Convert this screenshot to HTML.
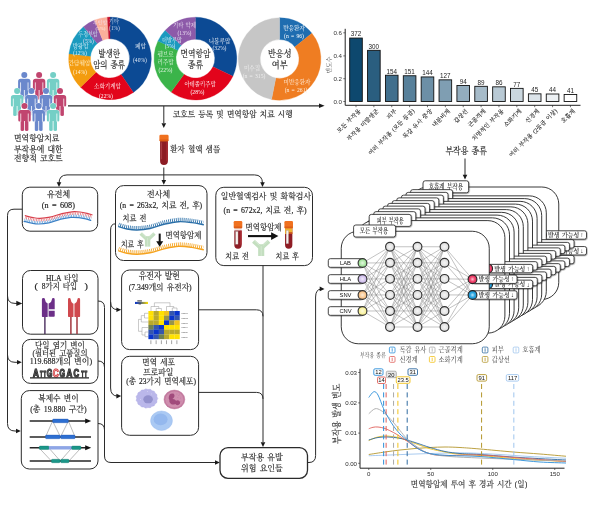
<!DOCTYPE html><html lang="ko"><head><meta charset="utf-8"><title>면역항암치료 부작용 코호트</title><style>
html,body{margin:0;padding:0;background:#fff}body{width:600px;height:509px;overflow:hidden}svg{display:block;will-change:transform;opacity:0.9999}
.s{font-family:"Liberation Serif","Noto Serif CJK SC","Noto Serif CJK KR",serif;word-spacing:0.16em}.a{font-family:"Liberation Sans","Noto Sans CJK KR",sans-serif}
</style></head><body><svg width="600" height="509" viewBox="0 0 600 509">
<rect width="600" height="509" fill="#fff"/>
<path d="M68,105.8 H320" stroke="#2b2b2b" stroke-width="1.2" fill="none" />
<polygon points="324.60,105.80 319.00,103.50 319.00,108.10" fill="#1a1a1a"/>
<path d="M110.00,17.10 A41.3,41.3 0 0 1 133.42,92.42 L121.11,74.54 A19.6,19.6 0 0 0 110.00,38.80 Z" fill="#0c4a94" stroke="#0c4a94" stroke-width="0.3"/>
<path d="M133.42,92.42 A41.3,41.3 0 0 1 80.57,87.37 L96.03,72.15 A19.6,19.6 0 0 0 121.11,74.54 Z" fill="#e2041b" stroke="#e2041b" stroke-width="0.3"/>
<path d="M80.57,87.37 A41.3,41.3 0 0 1 68.95,53.82 L90.52,56.23 A19.6,19.6 0 0 0 96.03,72.15 Z" fill="#f39c0f" stroke="#f39c0f" stroke-width="0.3"/>
<path d="M68.95,53.82 A41.3,41.3 0 0 1 83.45,26.76 L97.40,43.39 A19.6,19.6 0 0 0 90.52,56.23 Z" fill="#1b9abf" stroke="#1b9abf" stroke-width="0.3"/>
<path d="M83.45,26.76 A41.3,41.3 0 0 1 94.65,20.06 L102.72,40.20 A19.6,19.6 0 0 0 97.40,43.39 Z" fill="#8d5aa9" stroke="#8d5aa9" stroke-width="0.3"/>
<path d="M94.65,20.06 A41.3,41.3 0 0 1 107.38,17.18 L108.76,38.84 A19.6,19.6 0 0 0 102.72,40.20 Z" fill="#fbb09b" stroke="#fbb09b" stroke-width="0.3"/>
<path d="M107.38,17.18 A41.3,41.3 0 0 1 110.00,17.10 L110.00,38.80 A19.6,19.6 0 0 0 108.76,38.84 Z" fill="#c3122f" stroke="#c3122f" stroke-width="0.3"/>
<text class="s" x="98.20" y="57.16" font-size="9.6" fill="#222" textLength="22.00" lengthAdjust="spacingAndGlyphs"  stroke="#222" stroke-width="0.16">발생한</text>
<text class="s" x="93.20" y="67.82" font-size="9.2" fill="#222" textLength="31.80" lengthAdjust="spacingAndGlyphs"  stroke="#222" stroke-width="0.16">암의 종류</text>
<text class="s" x="140.50" y="47.50" font-size="5.6" fill="#ffffff" text-anchor="middle" >폐암</text>
<text class="s" x="140.00" y="61.50" font-size="5.6" fill="#dfe8f5" text-anchor="middle" >(40%)</text>
<text class="s" x="107.50" y="88.00" font-size="5.6" fill="#ffffff" text-anchor="middle" >소화기계암</text>
<text class="s" x="106.00" y="97.50" font-size="5.6" fill="#ffffff" text-anchor="middle" >(22%)</text>
<text class="s" x="79.50" y="64.50" font-size="5.6" fill="#fff4d8" text-anchor="middle" >간담췌암</text>
<text class="s" x="80.00" y="73.50" font-size="5.6" fill="#fff4d8" text-anchor="middle" >(14%)</text>
<text class="s" x="80.50" y="47.50" font-size="5.6" fill="#d8f0f8" text-anchor="middle" >방광암</text>
<text class="s" x="80.00" y="55.00" font-size="5.6" fill="#d8f0f8" text-anchor="middle" >(12%)</text>
<text class="s" x="78.30" y="36.49" font-size="5.4" fill="#d4ecf4" textLength="19.40" lengthAdjust="spacingAndGlyphs" >두경부암</text>
<text class="s" x="88.50" y="43.00" font-size="5.4" fill="#e6dcf0" text-anchor="middle" >(5%)</text>
<text class="s" x="100.00" y="24.00" font-size="5" fill="#f6dcea" text-anchor="middle" >부인암</text>
<text class="s" x="100.50" y="30.30" font-size="5" fill="#fde8e0" text-anchor="middle" >(5%)</text>
<text class="s" x="114.00" y="22.50" font-size="5.4" fill="#cdd7ee" text-anchor="middle" >기타</text>
<text class="s" x="114.50" y="29.50" font-size="5.4" fill="#cdd7ee" text-anchor="middle" >(1%)</text>
<path d="M195.40,17.20 A41.4,41.4 0 0 1 232.86,76.23 L212.95,66.86 A19.4,19.4 0 0 0 195.40,39.20 Z" fill="#0c4a94" stroke="#0c4a94" stroke-width="0.3"/>
<path d="M232.86,76.23 A41.4,41.4 0 0 1 171.07,92.09 L184.00,74.29 A19.4,19.4 0 0 0 212.95,66.86 Z" fill="#e2041b" stroke="#e2041b" stroke-width="0.3"/>
<path d="M171.07,92.09 A41.4,41.4 0 0 1 157.94,40.97 L177.85,50.34 A19.4,19.4 0 0 0 184.00,74.29 Z" fill="#3bb44a" stroke="#3bb44a" stroke-width="0.3"/>
<path d="M157.94,40.97 A41.4,41.4 0 0 1 165.22,30.26 L181.26,45.32 A19.4,19.4 0 0 0 177.85,50.34 Z" fill="#1b9abf" stroke="#1b9abf" stroke-width="0.3"/>
<path d="M165.22,30.26 A41.4,41.4 0 0 1 195.40,17.20 L195.40,39.20 A19.4,19.4 0 0 0 181.26,45.32 Z" fill="#8d5aa9" stroke="#8d5aa9" stroke-width="0.3"/>
<text class="s" x="180.40" y="57.09" font-size="9.4" fill="#222" textLength="30.00" lengthAdjust="spacingAndGlyphs"  stroke="#222" stroke-width="0.16">면역항암</text>
<text class="s" x="187.80" y="67.82" font-size="9.2" fill="#222" textLength="15.20" lengthAdjust="spacingAndGlyphs"  stroke="#222" stroke-width="0.16">종류</text>
<text class="s" x="219.50" y="42.50" font-size="5.6" fill="#ffffff" text-anchor="middle" >니볼루맙</text>
<text class="s" x="219.50" y="50.00" font-size="5.6" fill="#dfe8f5" text-anchor="middle" >(32%)</text>
<text class="s" x="200.00" y="86.00" font-size="5.4" fill="#ffffff" text-anchor="middle" >아테졸리주맙</text>
<text class="s" x="197.50" y="93.50" font-size="5.6" fill="#ffffff" text-anchor="middle" >(28%)</text>
<text class="s" x="165.50" y="56.00" font-size="5.6" fill="#e6f7e6" text-anchor="middle" >펨브로</text>
<text class="s" x="165.50" y="63.50" font-size="5.6" fill="#e6f7e6" text-anchor="middle" >리주맙</text>
<text class="s" x="165.50" y="71.50" font-size="5.6" fill="#e6f7e6" text-anchor="middle" >(22%)</text>
<text class="s" x="172.00" y="41.50" font-size="5.2" fill="#dff2f8" text-anchor="middle" >더발루맙</text>
<text class="s" x="170.00" y="47.50" font-size="5.2" fill="#dff2f8" text-anchor="middle" >(5%)</text>
<text class="s" x="184.50" y="27.00" font-size="5.4" fill="#eadff2" text-anchor="middle" >기타 약제</text>
<text class="s" x="184.50" y="34.50" font-size="5.6" fill="#eadff2" text-anchor="middle" >(13%)</text>
<path d="M279.60,17.70 A41.3,41.3 0 0 1 311.89,33.25 L294.77,46.90 A19.4,19.4 0 0 0 279.60,39.60 Z" fill="#1f6db0" stroke="#1f6db0" stroke-width="0.3"/>
<path d="M311.89,33.25 A41.3,41.3 0 0 1 271.54,99.51 L275.82,78.03 A19.4,19.4 0 0 0 294.77,46.90 Z" fill="#ef7d22" stroke="#ef7d22" stroke-width="0.3"/>
<path d="M271.54,99.51 A41.3,41.3 0 0 1 279.60,17.70 L279.60,39.60 A19.4,19.4 0 0 0 275.82,78.03 Z" fill="#c6c6c6" stroke="#c6c6c6" stroke-width="0.3"/>
<text class="s" x="268.00" y="57.29" font-size="9.4" fill="#222" textLength="23.60" lengthAdjust="spacingAndGlyphs"  stroke="#222" stroke-width="0.16">반응성</text>
<text class="s" x="271.80" y="68.02" font-size="9.2" fill="#222" textLength="15.80" lengthAdjust="spacingAndGlyphs"  stroke="#222" stroke-width="0.16">여부</text>
<text class="s" x="294.00" y="30.00" font-size="5.6" fill="#ffffff" text-anchor="middle" >반응환자</text>
<text class="s" x="294.00" y="37.50" font-size="5.6" fill="#ffffff" text-anchor="middle" >(n = 96)</text>
<text class="s" x="297.00" y="84.00" font-size="5.6" fill="#fff0e0" text-anchor="middle" >미반응환자</text>
<text class="s" x="296.00" y="92.00" font-size="5.6" fill="#fff0e0" text-anchor="middle" >(n = 261)</text>
<text class="s" x="252.00" y="69.50" font-size="5.6" fill="#eeeeee" text-anchor="middle" >미수집</text>
<text class="s" x="254.00" y="77.50" font-size="5.6" fill="#eeeeee" text-anchor="middle" >(n = 315)</text>
<g transform="translate(24.30,74.90)" fill="#6a88cc" stroke="#fff" stroke-width="0.9" paint-order="stroke"><path d="M-6.2,6.6 Q-6.2,3.9 -3.6,3.9 H3.6 Q6.2,3.9 6.2,6.6 V14.2 Q6.2,15.4 5,15.4 Q3.9,15.4 3.9,14.2 V24 Q3.9,25 2.2,25 Q0.5,25 0.4,24 V15 H-0.4 V24 Q-0.5,25 -2.2,25 Q-3.9,25 -3.9,24 V14.2 Q-3.9,15.4 -5,15.4 Q-6.2,15.4 -6.2,14.2 Z"/><circle cx="0" cy="0" r="3"/></g><path d="M20.55,82.40 V90.50 M28.05,82.40 V90.50" stroke="#fff" stroke-width="0.75"/>
<g transform="translate(39.10,74.90)" fill="#c1456f" stroke="#fff" stroke-width="0.9" paint-order="stroke"><path d="M-6.2,6.6 Q-6.2,3.9 -3.6,3.9 H3.6 Q6.2,3.9 6.2,6.6 V14.2 Q6.2,15.4 5,15.4 Q3.9,15.4 3.9,14.2 V24 Q3.9,25 2.2,25 Q0.5,25 0.4,24 V15 H-0.4 V24 Q-0.5,25 -2.2,25 Q-3.9,25 -3.9,24 V14.2 Q-3.9,15.4 -5,15.4 Q-6.2,15.4 -6.2,14.2 Z"/><circle cx="0" cy="0" r="3"/></g><path d="M35.35,82.40 V90.50 M42.85,82.40 V90.50" stroke="#fff" stroke-width="0.75"/>
<g transform="translate(53.10,74.90)" fill="#74cfc6" stroke="#fff" stroke-width="0.9" paint-order="stroke"><path d="M-6.2,6.6 Q-6.2,3.9 -3.6,3.9 H3.6 Q6.2,3.9 6.2,6.6 V14.2 Q6.2,15.4 5,15.4 Q3.9,15.4 3.9,14.2 V24 Q3.9,25 2.2,25 Q0.5,25 0.4,24 V15 H-0.4 V24 Q-0.5,25 -2.2,25 Q-3.9,25 -3.9,24 V14.2 Q-3.9,15.4 -5,15.4 Q-6.2,15.4 -6.2,14.2 Z"/><circle cx="0" cy="0" r="3"/></g><path d="M49.35,82.40 V90.50 M56.85,82.40 V90.50" stroke="#fff" stroke-width="0.75"/>
<g transform="translate(17.10,91.10)" fill="#74cfc6" stroke="#fff" stroke-width="0.9" paint-order="stroke"><path d="M-6.2,6.6 Q-6.2,3.9 -3.6,3.9 H3.6 Q6.2,3.9 6.2,6.6 V14.2 Q6.2,15.4 5,15.4 Q3.9,15.4 3.9,14.2 V24 Q3.9,25 2.2,25 Q0.5,25 0.4,24 V15 H-0.4 V24 Q-0.5,25 -2.2,25 Q-3.9,25 -3.9,24 V14.2 Q-3.9,15.4 -5,15.4 Q-6.2,15.4 -6.2,14.2 Z"/><circle cx="0" cy="0" r="3"/></g><path d="M13.35,98.60 V106.70 M20.85,98.60 V106.70" stroke="#fff" stroke-width="0.75"/>
<g transform="translate(31.40,91.10)" fill="#6a88cc" stroke="#fff" stroke-width="0.9" paint-order="stroke"><path d="M-6.2,6.6 Q-6.2,3.9 -3.6,3.9 H3.6 Q6.2,3.9 6.2,6.6 V14.2 Q6.2,15.4 5,15.4 Q3.9,15.4 3.9,14.2 V24 Q3.9,25 2.2,25 Q0.5,25 0.4,24 V15 H-0.4 V24 Q-0.5,25 -2.2,25 Q-3.9,25 -3.9,24 V14.2 Q-3.9,15.4 -5,15.4 Q-6.2,15.4 -6.2,14.2 Z"/><circle cx="0" cy="0" r="3"/></g><path d="M27.65,98.60 V106.70 M35.15,98.60 V106.70" stroke="#fff" stroke-width="0.75"/>
<g transform="translate(46.00,91.10)" fill="#6a88cc" stroke="#fff" stroke-width="0.9" paint-order="stroke"><path d="M-6.2,6.6 Q-6.2,3.9 -3.6,3.9 H3.6 Q6.2,3.9 6.2,6.6 V14.2 Q6.2,15.4 5,15.4 Q3.9,15.4 3.9,14.2 V24 Q3.9,25 2.2,25 Q0.5,25 0.4,24 V15 H-0.4 V24 Q-0.5,25 -2.2,25 Q-3.9,25 -3.9,24 V14.2 Q-3.9,15.4 -5,15.4 Q-6.2,15.4 -6.2,14.2 Z"/><circle cx="0" cy="0" r="3"/></g><path d="M42.25,98.60 V106.70 M49.75,98.60 V106.70" stroke="#fff" stroke-width="0.75"/>
<g transform="translate(60.00,91.10)" fill="#c1456f" stroke="#fff" stroke-width="0.9" paint-order="stroke"><path d="M-6.2,6.6 Q-6.2,3.9 -3.6,3.9 H3.6 Q6.2,3.9 6.2,6.6 V14.2 Q6.2,15.4 5,15.4 Q3.9,15.4 3.9,14.2 V24 Q3.9,25 2.2,25 Q0.5,25 0.4,24 V15 H-0.4 V24 Q-0.5,25 -2.2,25 Q-3.9,25 -3.9,24 V14.2 Q-3.9,15.4 -5,15.4 Q-6.2,15.4 -6.2,14.2 Z"/><circle cx="0" cy="0" r="3"/></g><path d="M56.25,98.60 V106.70 M63.75,98.60 V106.70" stroke="#fff" stroke-width="0.75"/>
<g transform="translate(24.50,106.00)" fill="#c1456f" stroke="#fff" stroke-width="0.9" paint-order="stroke"><path d="M-6.2,6.6 Q-6.2,3.9 -3.6,3.9 H3.6 Q6.2,3.9 6.2,6.6 V14.2 Q6.2,15.4 5,15.4 Q3.9,15.4 3.9,14.2 V24 Q3.9,25 2.2,25 Q0.5,25 0.4,24 V15 H-0.4 V24 Q-0.5,25 -2.2,25 Q-3.9,25 -3.9,24 V14.2 Q-3.9,15.4 -5,15.4 Q-6.2,15.4 -6.2,14.2 Z"/><circle cx="0" cy="0" r="3"/></g><path d="M20.75,113.50 V121.60 M28.25,113.50 V121.60" stroke="#fff" stroke-width="0.75"/>
<g transform="translate(38.70,106.00)" fill="#6a88cc" stroke="#fff" stroke-width="0.9" paint-order="stroke"><path d="M-6.2,6.6 Q-6.2,3.9 -3.6,3.9 H3.6 Q6.2,3.9 6.2,6.6 V14.2 Q6.2,15.4 5,15.4 Q3.9,15.4 3.9,14.2 V24 Q3.9,25 2.2,25 Q0.5,25 0.4,24 V15 H-0.4 V24 Q-0.5,25 -2.2,25 Q-3.9,25 -3.9,24 V14.2 Q-3.9,15.4 -5,15.4 Q-6.2,15.4 -6.2,14.2 Z"/><circle cx="0" cy="0" r="3"/></g><path d="M34.95,113.50 V121.60 M42.45,113.50 V121.60" stroke="#fff" stroke-width="0.75"/>
<g transform="translate(53.10,106.00)" fill="#74cfc6" stroke="#fff" stroke-width="0.9" paint-order="stroke"><path d="M-6.2,6.6 Q-6.2,3.9 -3.6,3.9 H3.6 Q6.2,3.9 6.2,6.6 V14.2 Q6.2,15.4 5,15.4 Q3.9,15.4 3.9,14.2 V24 Q3.9,25 2.2,25 Q0.5,25 0.4,24 V15 H-0.4 V24 Q-0.5,25 -2.2,25 Q-3.9,25 -3.9,24 V14.2 Q-3.9,15.4 -5,15.4 Q-6.2,15.4 -6.2,14.2 Z"/><circle cx="0" cy="0" r="3"/></g><path d="M49.35,113.50 V121.60 M56.85,113.50 V121.60" stroke="#fff" stroke-width="0.75"/>
<text class="s" x="14.00" y="141.34" font-size="8.4" fill="#222" textLength="45.40" lengthAdjust="spacingAndGlyphs"  stroke="#222" stroke-width="0.16">면역항암치료</text>
<text class="s" x="14.00" y="151.74" font-size="8.4" fill="#222" textLength="48.70" lengthAdjust="spacingAndGlyphs"  stroke="#222" stroke-width="0.16">부작용에 대한</text>
<text class="s" x="14.00" y="161.34" font-size="8.4" fill="#222" textLength="48.70" lengthAdjust="spacingAndGlyphs"  stroke="#222" stroke-width="0.16">전향적 코호트</text>
<rect x="349.70" y="38.06" width="12.6" height="63.44" fill="rgb(13, 72, 110)" stroke="#111" stroke-width="0.9"/>
<text class="a" x="356.00" y="36.46" font-size="6.3" fill="#222" text-anchor="middle" >372</text>
<path d="M356.00,105.3 V107.2" stroke="#333" stroke-width="0.7" fill="none" />
<text class="s" x="361.20" y="111.40" font-size="5.9" fill="#1e1e1e" text-anchor="end" stroke="#1e1e1e" stroke-width="0.1" transform="rotate(-45 361.20 111.4)">모든 부작용</text>
<rect x="367.57" y="50.34" width="12.6" height="51.16" fill="rgb(42, 94, 127)" stroke="#111" stroke-width="0.9"/>
<text class="a" x="373.87" y="48.74" font-size="6.3" fill="#222" text-anchor="middle" >300</text>
<path d="M373.87,105.3 V107.2" stroke="#333" stroke-width="0.7" fill="none" />
<text class="s" x="379.07" y="111.40" font-size="5.9" fill="#1e1e1e" text-anchor="end" stroke="#1e1e1e" stroke-width="0.1" transform="rotate(-45 379.07 111.4)">부작용 미발생군</text>
<rect x="385.44" y="75.24" width="12.6" height="26.26" fill="rgb(65, 111, 141)" stroke="#111" stroke-width="0.9"/>
<text class="a" x="391.74" y="73.64" font-size="6.3" fill="#222" text-anchor="middle" >154</text>
<path d="M391.74,105.3 V107.2" stroke="#333" stroke-width="0.7" fill="none" />
<text class="s" x="396.94" y="111.40" font-size="5.9" fill="#1e1e1e" text-anchor="end" stroke="#1e1e1e" stroke-width="0.1" transform="rotate(-45 396.94 111.4)">피부</text>
<rect x="403.31" y="75.75" width="12.6" height="25.75" fill="rgb(87, 128, 154)" stroke="#111" stroke-width="0.9"/>
<text class="a" x="409.61" y="74.15" font-size="6.3" fill="#222" text-anchor="middle" >151</text>
<path d="M409.61,105.3 V107.2" stroke="#333" stroke-width="0.7" fill="none" />
<text class="s" x="414.81" y="111.40" font-size="5.9" fill="#1e1e1e" text-anchor="end" stroke="#1e1e1e" stroke-width="0.1" transform="rotate(-45 414.81 111.4)">여러 부작용 (모든 등급)</text>
<rect x="421.18" y="76.94" width="12.6" height="24.56" fill="rgb(108, 143, 166)" stroke="#111" stroke-width="0.9"/>
<text class="a" x="427.48" y="75.34" font-size="6.3" fill="#222" text-anchor="middle" >144</text>
<path d="M427.48,105.3 V107.2" stroke="#333" stroke-width="0.7" fill="none" />
<text class="s" x="432.68" y="111.40" font-size="5.9" fill="#1e1e1e" text-anchor="end" stroke="#1e1e1e" stroke-width="0.1" transform="rotate(-45 432.68 111.4)">독감 유사 증상</text>
<rect x="439.05" y="79.84" width="12.6" height="21.66" fill="rgb(127, 158, 178)" stroke="#111" stroke-width="0.9"/>
<text class="a" x="445.35" y="78.24" font-size="6.3" fill="#222" text-anchor="middle" >127</text>
<path d="M445.35,105.3 V107.2" stroke="#333" stroke-width="0.7" fill="none" />
<text class="s" x="450.55" y="111.40" font-size="5.9" fill="#1e1e1e" text-anchor="end" stroke="#1e1e1e" stroke-width="0.1" transform="rotate(-45 450.55 111.4)">내분비계</text>
<rect x="456.92" y="85.47" width="12.6" height="16.03" fill="rgb(147, 173, 190)" stroke="#111" stroke-width="0.9"/>
<text class="a" x="463.22" y="83.87" font-size="6.3" fill="#222" text-anchor="middle" >94</text>
<path d="M463.22,105.3 V107.2" stroke="#333" stroke-width="0.7" fill="none" />
<text class="s" x="468.42" y="111.40" font-size="5.9" fill="#1e1e1e" text-anchor="end" stroke="#1e1e1e" stroke-width="0.1" transform="rotate(-45 468.42 111.4)">갑상선</text>
<rect x="474.79" y="86.32" width="12.6" height="15.18" fill="rgb(166, 187, 201)" stroke="#111" stroke-width="0.9"/>
<text class="a" x="481.09" y="84.72" font-size="6.3" fill="#222" text-anchor="middle" >89</text>
<path d="M481.09,105.3 V107.2" stroke="#333" stroke-width="0.7" fill="none" />
<text class="s" x="486.29" y="111.40" font-size="5.9" fill="#1e1e1e" text-anchor="end" stroke="#1e1e1e" stroke-width="0.1" transform="rotate(-45 486.29 111.4)">근골격계</text>
<rect x="492.66" y="86.83" width="12.6" height="14.67" fill="rgb(184, 201, 212)" stroke="#111" stroke-width="0.9"/>
<text class="a" x="498.96" y="85.23" font-size="6.3" fill="#222" text-anchor="middle" >86</text>
<path d="M498.96,105.3 V107.2" stroke="#333" stroke-width="0.7" fill="none" />
<text class="s" x="504.16" y="111.40" font-size="5.9" fill="#1e1e1e" text-anchor="end" stroke="#1e1e1e" stroke-width="0.1" transform="rotate(-45 504.16 111.4)">치명적인 부작용</text>
<rect x="510.53" y="88.37" width="12.6" height="13.13" fill="rgb(202, 215, 223)" stroke="#111" stroke-width="0.9"/>
<text class="a" x="516.83" y="86.77" font-size="6.3" fill="#222" text-anchor="middle" >77</text>
<path d="M516.83,105.3 V107.2" stroke="#333" stroke-width="0.7" fill="none" />
<text class="s" x="522.03" y="111.40" font-size="5.9" fill="#1e1e1e" text-anchor="end" stroke="#1e1e1e" stroke-width="0.1" transform="rotate(-45 522.03 111.4)">소화기계</text>
<rect x="528.40" y="93.83" width="12.6" height="7.67" fill="rgb(220, 228, 234)" stroke="#111" stroke-width="0.9"/>
<text class="a" x="534.70" y="92.23" font-size="6.3" fill="#222" text-anchor="middle" >45</text>
<path d="M534.70,105.3 V107.2" stroke="#333" stroke-width="0.7" fill="none" />
<text class="s" x="539.90" y="111.40" font-size="5.9" fill="#1e1e1e" text-anchor="end" stroke="#1e1e1e" stroke-width="0.1" transform="rotate(-45 539.90 111.4)">신경계</text>
<rect x="546.27" y="94.00" width="12.6" height="7.50" fill="rgb(237, 241, 244)" stroke="#111" stroke-width="0.9"/>
<text class="a" x="552.57" y="92.40" font-size="6.3" fill="#222" text-anchor="middle" >44</text>
<path d="M552.57,105.3 V107.2" stroke="#333" stroke-width="0.7" fill="none" />
<text class="s" x="557.77" y="111.40" font-size="5.9" fill="#1e1e1e" text-anchor="end" stroke="#1e1e1e" stroke-width="0.1" transform="rotate(-45 557.77 111.4)">여러 부작용 (2등급 이상)</text>
<rect x="564.14" y="94.51" width="12.6" height="6.99" fill="rgb(255, 255, 255)" stroke="#111" stroke-width="0.9"/>
<text class="a" x="570.44" y="92.91" font-size="6.3" fill="#222" text-anchor="middle" >41</text>
<path d="M570.44,105.3 V107.2" stroke="#333" stroke-width="0.7" fill="none" />
<text class="s" x="575.64" y="111.40" font-size="5.9" fill="#1e1e1e" text-anchor="end" stroke="#1e1e1e" stroke-width="0.1" transform="rotate(-45 575.64 111.4)">호흡계</text>
<path d="M345.2,28.8 V105.3 H580.5" stroke="#222" stroke-width="1" fill="none" />
<path d="M343.3,32.8 H345.2" stroke="#333" stroke-width="0.7" fill="none" />
<text class="a" x="342.00" y="35.00" font-size="6.2" fill="#333" text-anchor="end" >0.6</text>
<path d="M343.3,55.9 H345.2" stroke="#333" stroke-width="0.7" fill="none" />
<text class="a" x="342.00" y="58.10" font-size="6.2" fill="#333" text-anchor="end" >0.4</text>
<path d="M343.3,78.7 H345.2" stroke="#333" stroke-width="0.7" fill="none" />
<text class="a" x="342.00" y="80.90" font-size="6.2" fill="#333" text-anchor="end" >0.2</text>
<path d="M343.3,101.5 H345.2" stroke="#333" stroke-width="0.7" fill="none" />
<text class="a" x="342.00" y="103.70" font-size="6.2" fill="#333" text-anchor="end" >0.0</text>
<text class="s" x="330.60" y="65.00" font-size="5.8" fill="#444" text-anchor="middle" transform="rotate(-90 330.6 65)">빈도수</text>
<text class="s" x="445.40" y="154.29" font-size="9.4" fill="#222" textLength="41.50" lengthAdjust="spacingAndGlyphs"  stroke="#222" stroke-width="0.16">부작용 종류</text>
<path d="M465,158.5 V175" stroke="#2b2b2b" stroke-width="1" fill="none" />
<polygon points="465.00,179.50 462.70,174.70 467.30,174.70" fill="#1a1a1a"/>
<path d="M163.8,106 V123" stroke="#2b2b2b" stroke-width="1" fill="none" />
<polygon points="163.80,128.00 161.50,123.20 166.10,123.20" fill="#1a1a1a"/>
<path d="M160.09,140.90 H167.91 V161.09 A3.91,3.91 0 0 1 160.09,161.09 Z" fill="#8c1c24"/>
<rect x="166.31" y="141.90" width="1.6" height="19.19" fill="#a52a32"/>
<rect x="160.99" y="142.40" width="1.1" height="16.87" fill="#a83a40"/>
<rect x="159.40" y="134.80" width="9.20" height="6.40" rx="1.3" fill="#f0711f"/>
<rect x="159.60" y="139.40" width="8.80" height="1.8" rx="0.6" fill="#dc5c16"/>
<text class="s" x="170.30" y="152.26" font-size="7.9" fill="#222" textLength="49.90" lengthAdjust="spacingAndGlyphs"  stroke="#222" stroke-width="0.16">환자 혈액 샘플</text>
<text class="s" x="172.80" y="117.36" font-size="7.9" fill="#222" textLength="119.90" lengthAdjust="spacingAndGlyphs"  stroke="#222" stroke-width="0.16">코호트 등록 및 면역항암 치료 시행</text>
<path d="M163.8,167.5 V180" stroke="#2b2b2b" stroke-width="1" fill="none" />
<polygon points="163.80,184.80 161.50,180.00 166.10,180.00" fill="#1a1a1a"/>
<path d="M59,183.5 Q59,174.9 67,174.9 H254.5 Q262.5,174.9 262.5,183.5" stroke="#2b2b2b" stroke-width="1" fill="none" />
<polygon points="59.00,187.00 56.70,182.20 61.30,182.20" fill="#1a1a1a"/>
<polygon points="262.50,187.00 260.20,182.20 264.80,182.20" fill="#1a1a1a"/>
<rect x="22.30" y="187.20" width="75.40" height="44.00" rx="7.5" ry="7.5" stroke="#2b2b2b" stroke-width="1" fill="#fff" />
<text class="s" x="47.10" y="197.24" font-size="8.4" fill="#222" textLength="23.10" lengthAdjust="spacingAndGlyphs"  stroke="#222" stroke-width="0.16">유전체</text>
<text class="s" x="41.80" y="207.80" font-size="8" fill="#222" textLength="33.10" lengthAdjust="spacingAndGlyphs"  stroke="#222" stroke-width="0.16">(n = 608)</text>
<path d="M25.30,215.70 C26.58,216.02 30.55,217.15 33.00,217.60 C35.45,218.05 37.17,218.47 40.00,218.40 C42.83,218.33 46.33,218.00 50.00,217.20 C53.67,216.40 58.33,214.50 62.00,213.60 C65.67,212.70 69.00,212.07 72.00,211.80 C75.00,211.53 77.50,211.75 80.00,212.00 C82.50,212.25 85.00,212.83 87.00,213.30 C89.00,213.77 91.17,214.55 92.00,214.80" stroke="#d8404c" stroke-width="1.2" fill="none" stroke-linecap="round"/>
<path d="M24.10,221.30 C25.38,221.62 29.35,222.75 31.80,223.20 C34.25,223.65 35.97,224.07 38.80,224.00 C41.63,223.93 45.13,223.60 48.80,222.80 C52.47,222.00 57.13,220.10 60.80,219.20 C64.47,218.30 67.80,217.67 70.80,217.40 C73.80,217.13 76.30,217.35 78.80,217.60 C81.30,217.85 83.80,218.43 85.80,218.90 C87.80,219.37 89.97,220.15 90.80,220.40" stroke="#3a7fc4" stroke-width="1.2" fill="none" stroke-linecap="round"/>
<path d="M25.00,217.60 C26.28,217.92 30.25,219.05 32.70,219.50 C35.15,219.95 36.87,220.37 39.70,220.30 C42.53,220.23 46.03,219.90 49.70,219.10 C53.37,218.30 58.03,216.40 61.70,215.50 C65.37,214.60 68.70,213.97 71.70,213.70 C74.70,213.43 77.20,213.65 79.70,213.90 C82.20,214.15 84.70,214.73 86.70,215.20 C88.70,215.67 90.87,216.45 91.70,216.70" stroke="#e26a72" stroke-width="2.5" fill="none" stroke-dasharray="0.7 0.95"/>
<path d="M24.40,219.80 C25.68,220.12 29.65,221.25 32.10,221.70 C34.55,222.15 36.27,222.57 39.10,222.50 C41.93,222.43 45.43,222.10 49.10,221.30 C52.77,220.50 57.43,218.60 61.10,217.70 C64.77,216.80 68.10,216.17 71.10,215.90 C74.10,215.63 76.60,215.85 79.10,216.10 C81.60,216.35 84.10,216.93 86.10,217.40 C88.10,217.87 90.27,218.65 91.10,218.90" stroke="#5c9ad6" stroke-width="2.4" fill="none" stroke-dasharray="0.7 0.95"/>
<path d="M22.3,209.2 H14 Q7.5,209.2 7.5,215.7 V423.5 Q7.5,431 15,431 H17" stroke="#2b2b2b" stroke-width="1" fill="none" />
<path d="M7.5,295.8 Q7.5,303.4 15,303.4 H17" stroke="#2b2b2b" stroke-width="1" fill="none" />
<polygon points="22.30,303.40 16.30,300.70 16.30,306.10" fill="#1a1a1a"/>
<path d="M7.5,354.8 Q7.5,362.3 15,362.3 H17.5" stroke="#2b2b2b" stroke-width="1" fill="none" />
<polygon points="21.80,362.30 17.00,360.00 17.00,364.60" fill="#1a1a1a"/>
<polygon points="20.80,431.00 16.00,428.70 16.00,433.30" fill="#1a1a1a"/>
<rect x="22.50" y="270.50" width="75.50" height="63.70" rx="8" ry="8" stroke="#2b2b2b" stroke-width="1" fill="#fff" />
<text class="s" x="45.90" y="280.87" font-size="8.2" fill="#222" textLength="32.70" lengthAdjust="spacingAndGlyphs"  stroke="#222" stroke-width="0.16">HLA 타입</text>
<text class="s" x="41.80" y="289.47" font-size="8.2" fill="#222" textLength="35.40" lengthAdjust="spacingAndGlyphs"  stroke="#222" stroke-width="0.16">8가지 타입</text>
<text class="s" x="34.40" y="289.47" font-size="8.2" fill="#222" textLength="3.40" lengthAdjust="spacingAndGlyphs"  stroke="#222" stroke-width="0.16">(</text>
<text class="s" x="84.60" y="289.47" font-size="8.2" fill="#222" textLength="3.40" lengthAdjust="spacingAndGlyphs"  stroke="#222" stroke-width="0.16">)</text>
<rect x="47.4" y="303.4" width="1.7" height="13.3" fill="#cdbfd8"/>
<path d="M41.9,316.2 V299.4 Q41.9,298 43.4,298 Q44.9,298 45,299.4 Q45.3,302.4 47.6,303.6 V316.9 H42.6 Q41.9,316.9 41.9,316.2 Z" fill="#6c2f88"/>
<path d="M54.7,309 V299.4 Q54.7,298 53.3,298 Q52,298 51.9,299.4 Q51.6,302.4 48.9,303.6 V309 Z" fill="#6c2f88"/>
<rect x="48.9" y="310.7" width="5.8" height="6" rx="0.8" fill="#6c2f88"/>
<rect x="48.9" y="309" width="5.8" height="1.7" fill="#d9cde2"/>
<path d="M44.9,316.9 V334" stroke="#3c1d52" stroke-width="1.3" fill="none" />
<rect x="73" y="303.6" width="1.8" height="13.3" fill="#eabfbf"/>
<path d="M68,316.2 V299.4 Q68,298 69.3,298 Q70.6,298 70.7,299.4 Q71,302.6 73.2,303.8 V316.9 H68.7 Q68,316.9 68,316.2 Z" fill="#d0484e"/>
<path d="M80.1,316.2 V299.4 Q80.1,298 78.8,298 Q77.5,298 77.4,299.4 Q77.1,302.6 74.6,303.8 V316.9 H79.4 Q80.1,316.9 80.1,316.2 Z" fill="#d0484e"/>
<path d="M70.9,316.9 V334 M77,316.9 V334" stroke="#a3383f" stroke-width="1.5" fill="none" />
<rect x="22.40" y="339.40" width="75.60" height="44.00" rx="8" ry="8" stroke="#2b2b2b" stroke-width="1" fill="#fff" />
<text class="s" x="35.10" y="347.57" font-size="8.2" fill="#222" textLength="49.80" lengthAdjust="spacingAndGlyphs"  stroke="#222" stroke-width="0.16">단일 염기 변이</text>
<text class="s" x="32.50" y="356.10" font-size="8" fill="#222" textLength="55.00" lengthAdjust="spacingAndGlyphs"  stroke="#222" stroke-width="0.16">(필터된 고품질의</text>
<text class="s" x="29.80" y="364.20" font-size="8" fill="#222" textLength="62.40" lengthAdjust="spacingAndGlyphs"  stroke="#222" stroke-width="0.16">119.688개의 변이)</text>
<text class="a" x="33.00" y="376.6" font-size="10.3" font-weight="bold" fill="#4a4a4a" stroke="#141414" stroke-width="1.1" paint-order="stroke" textLength="5.80" lengthAdjust="spacingAndGlyphs">A</text>
<text class="a" x="40.10" y="376.6" font-size="8.4" font-weight="bold" fill="#4a4a4a" stroke="#141414" stroke-width="1.1" paint-order="stroke" textLength="2.60" lengthAdjust="spacingAndGlyphs">T</text>
<text class="a" x="43.50" y="376.6" font-size="8.4" font-weight="bold" fill="#4a4a4a" stroke="#141414" stroke-width="1.1" paint-order="stroke" textLength="2.60" lengthAdjust="spacingAndGlyphs">T</text>
<text class="a" x="46.80" y="376.6" font-size="10.3" font-weight="bold" fill="#4a4a4a" stroke="#141414" stroke-width="1.1" paint-order="stroke" textLength="5.60" lengthAdjust="spacingAndGlyphs">G</text>
<text class="a" x="52.90" y="376.6" font-size="10.3" font-weight="bold" fill="#e88a8a" stroke="#c4151c" stroke-width="1.1" paint-order="stroke" textLength="5.60" lengthAdjust="spacingAndGlyphs">C</text>
<text class="a" x="59.60" y="376.6" font-size="10.3" font-weight="bold" fill="#4a4a4a" stroke="#141414" stroke-width="1.1" paint-order="stroke" textLength="5.60" lengthAdjust="spacingAndGlyphs">G</text>
<text class="a" x="66.50" y="376.6" font-size="10.3" font-weight="bold" fill="#4a4a4a" stroke="#141414" stroke-width="1.1" paint-order="stroke" textLength="5.80" lengthAdjust="spacingAndGlyphs">A</text>
<text class="a" x="73.50" y="376.6" font-size="10.3" font-weight="bold" fill="#4a4a4a" stroke="#141414" stroke-width="1.1" paint-order="stroke" textLength="5.60" lengthAdjust="spacingAndGlyphs">C</text>
<text class="a" x="81.20" y="376.6" font-size="8.4" font-weight="bold" fill="#4a4a4a" stroke="#141414" stroke-width="1.1" paint-order="stroke" textLength="2.60" lengthAdjust="spacingAndGlyphs">T</text>
<text class="a" x="84.60" y="376.6" font-size="8.4" font-weight="bold" fill="#4a4a4a" stroke="#141414" stroke-width="1.1" paint-order="stroke" textLength="2.60" lengthAdjust="spacingAndGlyphs">T</text>
<path d="M30,377.8 H89" stroke="#222" stroke-width="1.3" fill="none" />
<rect x="21.30" y="390.60" width="76.70" height="78.40" rx="8" ry="8" stroke="#2b2b2b" stroke-width="1" fill="#fff" />
<text class="s" x="38.20" y="401.27" font-size="8.2" fill="#222" textLength="40.40" lengthAdjust="spacingAndGlyphs"  stroke="#222" stroke-width="0.16">복제수 변이</text>
<text class="s" x="30.20" y="411.70" font-size="8" fill="#222" textLength="56.40" lengthAdjust="spacingAndGlyphs"  stroke="#222" stroke-width="0.16">(총 19.880 구간)</text>
<path d="M29.7,420.9 H86" stroke="#262626" stroke-width="1.5" fill="none" />
<polygon points="91.20,420.90 85.20,418.40 85.20,423.40" fill="#111"/>
<path d="M29.7,436.9 H91" stroke="#262626" stroke-width="1.5" fill="none" />
<path d="M29.7,447.8 H86" stroke="#262626" stroke-width="1.5" fill="none" />
<polygon points="91.20,447.80 85.20,445.30 85.20,450.30" fill="#111"/>
<path d="M29.7,461 H91" stroke="#262626" stroke-width="1.5" fill="none" />
<path d="M52.6,421 L45.5,437 M52.6,421 L60.5,437 M68.4,421 L60.5,437 M68.4,421 L75.1,437" stroke="#555" stroke-width="0.4" fill="none" />
<path d="M39.2,448 L51.4,461 M48.9,448 L60.3,461 M71.8,448 L60.3,461 M80.9,448 L68.9,461" stroke="#555" stroke-width="0.4" fill="none" />
<rect x="52.60" y="419.10" width="15.80" height="3.60" rx="0.9" ry="0.9" stroke="#2458b0" stroke-width="0.4" fill="#2d6fd2" />
<rect x="45.50" y="435.10" width="14.60" height="3.60" rx="0.9" ry="0.9" stroke="#2458b0" stroke-width="0.4" fill="#2d6fd2" />
<rect x="60.60" y="435.10" width="14.50" height="3.60" rx="0.9" ry="0.9" stroke="#2458b0" stroke-width="0.4" fill="#2d6fd2" />
<rect x="39.20" y="446.10" width="9.90" height="3.40" rx="0.9" ry="0.9" stroke="#147a6e" stroke-width="0.4" fill="#1a9688" />
<rect x="48.90" y="446.10" width="23.00" height="3.40" rx="0" ry="0" stroke="none" stroke-width="0" fill="#8ea6e6" />
<rect x="71.70" y="446.10" width="9.30" height="3.40" rx="0.9" ry="0.9" stroke="#147a6e" stroke-width="0.4" fill="#1a9688" />
<rect x="51.40" y="459.30" width="8.60" height="3.40" rx="0.9" ry="0.9" stroke="#147a6e" stroke-width="0.4" fill="#1a9688" />
<rect x="60.60" y="459.30" width="8.40" height="3.40" rx="0.9" ry="0.9" stroke="#147a6e" stroke-width="0.4" fill="#1a9688" />
<path d="M98,301 Q104.5,301 104.5,307.5 V456 Q104.5,462.5 111,462.5 H215" stroke="#2b2b2b" stroke-width="1" fill="none" />
<path d="M98,361 Q104.5,361 104.5,367.5" stroke="#2b2b2b" stroke-width="1" fill="none" />
<path d="M98,423.5 Q104.5,423.5 104.5,430" stroke="#2b2b2b" stroke-width="1" fill="none" />
<polygon points="219.80,462.50 215.00,460.20 215.00,464.80" fill="#1a1a1a"/>
<rect x="115.50" y="185.60" width="91.50" height="74.90" rx="8" ry="8" stroke="#2b2b2b" stroke-width="1" fill="#fff" />
<text class="s" x="147.10" y="197.04" font-size="8.4" fill="#222" textLength="23.10" lengthAdjust="spacingAndGlyphs"  stroke="#222" stroke-width="0.16">전사체</text>
<text class="s" x="119.80" y="207.80" font-size="8" fill="#222" textLength="82.40" lengthAdjust="spacingAndGlyphs"  stroke="#222" stroke-width="0.16">(n = 263x2, 치료 전, 후)</text>
<text class="s" x="122.60" y="221.10" font-size="8" fill="#222" textLength="23.80" lengthAdjust="spacingAndGlyphs"  stroke="#222" stroke-width="0.16">치료 전</text>
<text class="s" x="121.00" y="246.60" font-size="8" fill="#222" textLength="22.60" lengthAdjust="spacingAndGlyphs"  stroke="#222" stroke-width="0.16">치료 후</text>
<text class="s" x="165.50" y="238.00" font-size="8" fill="#222" textLength="35.90" lengthAdjust="spacingAndGlyphs"  stroke="#222" stroke-width="0.16">면역항암제</text>
<path d="M118.70,226.70 C120.08,227.08 123.95,228.45 127.00,229.00 C130.05,229.55 133.17,230.08 137.00,230.00 C140.83,229.92 145.33,229.50 150.00,228.50 C154.67,227.50 160.22,225.13 165.00,224.00 C169.78,222.87 174.20,221.93 178.70,221.70 C183.20,221.47 187.90,222.10 192.00,222.60 C196.10,223.10 201.42,224.35 203.30,224.70" stroke="#2a6fa8" stroke-width="1.4" fill="none" stroke-linecap="round"/>
<path d="M118.70,224.55 C120.08,224.93 123.95,226.30 127.00,226.85 C130.05,227.40 133.17,227.93 137.00,227.85 C140.83,227.77 145.33,227.35 150.00,226.35 C154.67,225.35 160.22,222.98 165.00,221.85 C169.78,220.72 174.20,219.78 178.70,219.55 C183.20,219.32 187.90,219.95 192.00,220.45 C196.10,220.95 201.42,222.20 203.30,222.55" stroke="#2a6fa8" stroke-width="3.5" fill="none" stroke-dasharray="0.85 1.1"/>
<g transform="translate(147.60,232.60) scale(1.000)"><path d="M-1,6.4 L-6.9,0.9 M1,6.4 L6.9,0.9" stroke="#c4dfc0" stroke-width="3.5" fill="none"/><rect x="-2.7" y="3.6" width="5.4" height="10.4" fill="#c4dfc0"/><path d="M0,5.2 V14 M-1.6,4.6 L-6.6,-0.2 M1.6,4.6 L6.6,-0.2" stroke="#fff" stroke-width="0.45" opacity="0.55" fill="none"/></g>
<path d="M118.70,250.80 C120.08,251.20 123.95,252.63 127.00,253.20 C130.05,253.77 133.17,254.27 137.00,254.20 C140.83,254.13 145.33,253.73 150.00,252.80 C154.67,251.87 160.22,249.68 165.00,248.60 C169.78,247.52 174.20,246.50 178.70,246.30 C183.20,246.10 187.90,246.83 192.00,247.40 C196.10,247.97 201.42,249.32 203.30,249.70" stroke="#f5a31f" stroke-width="1.4" fill="none" stroke-linecap="round"/>
<path d="M118.70,248.65 C120.08,249.05 123.95,250.48 127.00,251.05 C130.05,251.62 133.17,252.12 137.00,252.05 C140.83,251.98 145.33,251.58 150.00,250.65 C154.67,249.72 160.22,247.53 165.00,246.45 C169.78,245.37 174.20,244.35 178.70,244.15 C183.20,243.95 187.90,244.68 192.00,245.25 C196.10,245.82 201.42,247.17 203.30,247.55" stroke="#f5a31f" stroke-width="3.5" fill="none" stroke-dasharray="0.85 1.1"/>
<path d="M159.7,233.6 V242" stroke="#111" stroke-width="2" fill="none" />
<polygon points="159.70,246.80 156.20,241.20 163.20,241.20" fill="#111"/>
<path d="M115.5,223.8 Q110.6,223.8 110.6,230 V388 Q110.6,396.1 118,396.1" stroke="#2b2b2b" stroke-width="1" fill="none" />
<path d="M110.6,301.8 Q110.6,309.7 118,309.7" stroke="#2b2b2b" stroke-width="1" fill="none" />
<polygon points="121.20,309.70 116.40,307.40 116.40,312.00" fill="#1a1a1a"/>
<polygon points="121.20,396.10 116.40,393.80 116.40,398.40" fill="#1a1a1a"/>
<rect x="121.60" y="270.00" width="77.00" height="79.60" rx="8" ry="8" stroke="#2b2b2b" stroke-width="1" fill="#fff" />
<text class="s" x="138.80" y="279.21" font-size="8.6" fill="#222" textLength="41.00" lengthAdjust="spacingAndGlyphs"  stroke="#222" stroke-width="0.16">유전자 발현</text>
<text class="s" x="128.70" y="289.50" font-size="8" fill="#222" textLength="63.00" lengthAdjust="spacingAndGlyphs"  stroke="#222" stroke-width="0.16">(7.349개의 유전자)</text>
<rect x="148.40" y="311.00" width="5.35" height="4.82" fill="#ffe100"/>
<rect x="153.60" y="311.00" width="5.35" height="4.82" fill="#b9a92c"/>
<rect x="158.80" y="311.00" width="5.35" height="4.82" fill="#ffe100"/>
<rect x="164.00" y="311.00" width="5.35" height="4.82" fill="#f2c21e"/>
<rect x="169.20" y="311.00" width="5.35" height="4.82" fill="#3657ab"/>
<rect x="174.40" y="311.00" width="5.35" height="4.82" fill="#0a35cc"/>
<rect x="148.40" y="315.67" width="5.35" height="4.82" fill="#ffe100"/>
<rect x="153.60" y="315.67" width="5.35" height="4.82" fill="#b9a92c"/>
<rect x="158.80" y="315.67" width="5.35" height="4.82" fill="#ffe100"/>
<rect x="164.00" y="315.67" width="5.35" height="4.82" fill="#97944a"/>
<rect x="169.20" y="315.67" width="5.35" height="4.82" fill="#0a35cc"/>
<rect x="174.40" y="315.67" width="5.35" height="4.82" fill="#3657ab"/>
<rect x="148.40" y="320.34" width="5.35" height="4.82" fill="#b9a92c"/>
<rect x="153.60" y="320.34" width="5.35" height="4.82" fill="#b9a92c"/>
<rect x="158.80" y="320.34" width="5.35" height="4.82" fill="#ffe100"/>
<rect x="164.00" y="320.34" width="5.35" height="4.82" fill="#0a35cc"/>
<rect x="169.20" y="320.34" width="5.35" height="4.82" fill="#97944a"/>
<rect x="174.40" y="320.34" width="5.35" height="4.82" fill="#f2c21e"/>
<rect x="148.40" y="325.01" width="5.35" height="4.82" fill="#6f8150"/>
<rect x="153.60" y="325.01" width="5.35" height="4.82" fill="#3657ab"/>
<rect x="158.80" y="325.01" width="5.35" height="4.82" fill="#0a35cc"/>
<rect x="164.00" y="325.01" width="5.35" height="4.82" fill="#ffe100"/>
<rect x="169.20" y="325.01" width="5.35" height="4.82" fill="#ffe100"/>
<rect x="174.40" y="325.01" width="5.35" height="4.82" fill="#ffe100"/>
<rect x="148.40" y="329.68" width="5.35" height="4.82" fill="#3657ab"/>
<rect x="153.60" y="329.68" width="5.35" height="4.82" fill="#0a35cc"/>
<rect x="158.80" y="329.68" width="5.35" height="4.82" fill="#3657ab"/>
<rect x="164.00" y="329.68" width="5.35" height="4.82" fill="#b9a92c"/>
<rect x="169.20" y="329.68" width="5.35" height="4.82" fill="#b9a92c"/>
<rect x="174.40" y="329.68" width="5.35" height="4.82" fill="#b9a92c"/>
<rect x="148.40" y="334.35" width="5.35" height="4.82" fill="#0a35cc"/>
<rect x="153.60" y="334.35" width="5.35" height="4.82" fill="#3657ab"/>
<rect x="158.80" y="334.35" width="5.35" height="4.82" fill="#6f8150"/>
<rect x="164.00" y="334.35" width="5.35" height="4.82" fill="#b9a92c"/>
<rect x="169.20" y="334.35" width="5.35" height="4.82" fill="#ffe100"/>
<rect x="174.40" y="334.35" width="5.35" height="4.82" fill="#ffe100"/>
<path d="M148.4,313.3 H144.5 V318 H148.4 M144.5,315.6 H141.3 V322 H144.5 M144.5,322 H148.4 M141.3,319.4 H138.5 V331.3 H142 M142,327.5 V335 M142,327.5 H148.4 M142,335 H145 M145,332 V336.7 M145,332 H148.4 M145,336.7 H148.4" stroke="#8a8a8a" stroke-width="0.45" fill="none" />
<path d="M151,311 V306.5 H158.8 V308.5 M154.4,306.5 V302.8 H170 V306.5 M156.2,311 V308.5 H161.4 V311 M166.5,311 V306.5 H173.8 V308 M172.3,311 V308 H177 V311" stroke="#8a8a8a" stroke-width="0.45" fill="none" />
<defs><linearGradient id="ck"><stop offset="0" stop-color="#0a35cc"/><stop offset="0.45" stop-color="#5a6a7a"/><stop offset="1" stop-color="#ffe100"/></linearGradient></defs>
<rect x="135" y="301.9" width="13" height="2.1" fill="url(#ck)"/>
<rect x="137.3" y="300.3" width="4.6" height="1.2" fill="#222" opacity="0.8"/><rect x="138.6" y="303.6" width="2.4" height="0.9" fill="#222" opacity="0.7"/>
<text class="a" x="181.4" y="314.20" font-size="2.1" fill="#444">Label1</text>
<text class="a" x="181.4" y="318.87" font-size="2.1" fill="#444">Label2</text>
<text class="a" x="181.4" y="323.54" font-size="2.1" fill="#444">Label3</text>
<text class="a" x="181.4" y="328.21" font-size="2.1" fill="#444">Label4</text>
<text class="a" x="181.4" y="332.88" font-size="2.1" fill="#444">Label5</text>
<text class="a" x="181.4" y="337.55" font-size="2.1" fill="#444">Label6</text>
<rect x="150.50" y="340.3" width="0.8" height="3.8" fill="#8e8e8e"/>
<rect x="155.70" y="340.3" width="0.8" height="3.8" fill="#8e8e8e"/>
<rect x="160.90" y="340.3" width="0.8" height="3.8" fill="#8e8e8e"/>
<rect x="166.10" y="340.3" width="0.8" height="3.8" fill="#8e8e8e"/>
<rect x="171.30" y="340.3" width="0.8" height="3.8" fill="#8e8e8e"/>
<rect x="176.50" y="340.3" width="0.8" height="3.8" fill="#8e8e8e"/>
<rect x="121.60" y="356.30" width="77.00" height="79.00" rx="8" ry="8" stroke="#2b2b2b" stroke-width="1" fill="#fff" />
<text class="s" x="142.30" y="365.04" font-size="8.4" fill="#222" textLength="32.60" lengthAdjust="spacingAndGlyphs"  stroke="#222" stroke-width="0.16">면역 세포</text>
<text class="s" x="143.00" y="374.54" font-size="8.4" fill="#222" textLength="30.50" lengthAdjust="spacingAndGlyphs"  stroke="#222" stroke-width="0.16">프로파일</text>
<text class="s" x="126.20" y="383.90" font-size="8" fill="#222" textLength="69.70" lengthAdjust="spacingAndGlyphs"  stroke="#222" stroke-width="0.16">(총 23가지 면역세포)</text>
<path d="M157.82,398.50 C157.66,398.81 157.03,399.72 156.87,400.37 C156.71,401.03 157.16,401.86 156.88,402.43 C156.59,403.00 155.59,403.26 155.15,403.80 C154.70,404.34 154.73,405.26 154.21,405.68 C153.68,406.10 152.65,405.97 152.00,406.31 C151.34,406.64 150.95,407.49 150.27,407.69 C149.60,407.88 148.72,407.40 147.97,407.47 C147.21,407.54 146.46,408.17 145.76,408.11 C145.06,408.04 144.47,407.28 143.75,407.07 C143.03,406.87 142.05,407.18 141.44,406.87 C140.83,406.55 140.64,405.65 140.08,405.20 C139.52,404.75 138.48,404.68 138.07,404.18 C137.65,403.67 137.90,402.78 137.59,402.17 C137.28,401.56 136.37,401.12 136.22,400.51 C136.07,399.90 136.71,399.17 136.71,398.50 C136.71,397.83 136.07,397.10 136.22,396.49 C136.37,395.88 137.28,395.44 137.59,394.83 C137.90,394.22 137.65,393.33 138.07,392.82 C138.48,392.32 139.52,392.25 140.08,391.80 C140.64,391.35 140.83,390.45 141.44,390.13 C142.05,389.82 143.03,390.13 143.75,389.93 C144.47,389.72 145.06,388.96 145.76,388.89 C146.46,388.83 147.21,389.46 147.97,389.53 C148.72,389.60 149.60,389.12 150.27,389.31 C150.95,389.51 151.34,390.36 152.00,390.69 C152.65,391.03 153.68,390.90 154.21,391.32 C154.73,391.74 154.70,392.66 155.15,393.20 C155.59,393.74 156.59,394.00 156.88,394.57 C157.16,395.14 156.71,395.97 156.87,396.63 C157.03,397.28 157.66,398.19 157.82,398.50 Z" fill="#bab7ea" stroke="#aeaae4" stroke-width="0.5"/>
<ellipse cx="148.1" cy="399.3" rx="4.8" ry="4" fill="#9391cd"/>
<circle cx="151.5" cy="393.9" r="0.45" fill="#e8e6fa"/><circle cx="140.4" cy="399.5" r="0.4" fill="#e8e6fa"/><circle cx="147.4" cy="391.5" r="0.4" fill="#e8e6fa"/>
<ellipse cx="174.4" cy="399.5" rx="10.4" ry="9.4" fill="#c47b9f" stroke="#b86d94" stroke-width="0.5"/>
<ellipse cx="174.4" cy="399.5" rx="9" ry="8" fill="#cf8eae"/>
<path d="M168.8,397.0 q0.6,-3.6 3.6,-3.4 q2.6,0.4 2,3 q-0.6,1.8 -2,2.4 q2.6,-0.2 3.6,1.8 q2,-1.2 3.6,0.4 q1.4,2.2 -0.8,3.6 q-2.2,1 -3.6,-0.8 q-2,1.2 -4.2,0 q-2.4,-1.6 -1.6,-4 q-1,-1.4 -0.6,-3 z" fill="#a14b7c"/>
<circle cx="178.9" cy="395.5" r="0.35" fill="#a85a86"/>
<circle cx="180.4" cy="398.0" r="0.35" fill="#a85a86"/>
<circle cx="176.9" cy="394.0" r="0.35" fill="#a85a86"/>
<circle cx="180.9" cy="401.5" r="0.35" fill="#a85a86"/>
<circle cx="177.9" cy="397.5" r="0.35" fill="#a85a86"/>
<circle cx="173.4" cy="393.0" r="0.35" fill="#a85a86"/>
<circle cx="179.4" cy="394.0" r="0.35" fill="#a85a86"/>
<ellipse cx="161.5" cy="420.7" rx="10.9" ry="9.7" fill="#aac9f3" stroke="#9bbcee" stroke-width="0.5"/>
<ellipse cx="160.6" cy="419.3" rx="7" ry="5.9" fill="#94b8ee"/>
<path d="M198.6,309.8 H256.5 Q263,309.8 263,316.3" stroke="#2b2b2b" stroke-width="1" fill="none" />
<path d="M198.6,392.4 H256.5 Q263,392.4 263,398.9" stroke="#2b2b2b" stroke-width="1" fill="none" />
<rect x="215.80" y="187.30" width="96.70" height="78.30" rx="8" ry="8" stroke="#2b2b2b" stroke-width="1" fill="#fff" />
<text class="s" x="220.80" y="199.44" font-size="8.4" fill="#222" textLength="90.20" lengthAdjust="spacingAndGlyphs"  stroke="#222" stroke-width="0.16">일반혈액검사 및 화학검사</text>
<text class="s" x="223.60" y="212.90" font-size="8" fill="#222" textLength="83.10" lengthAdjust="spacingAndGlyphs"  stroke="#222" stroke-width="0.16">(n = 672x2, 치료 전, 후)</text>
<path d="M234.34,228.00 H241.66 V245.04 A3.65,3.65 0 0 1 234.34,245.04 Z" fill="#f2e4e2"/>
<path d="M234.34,230.60 H241.66 V245.04 A3.65,3.65 0 0 1 234.34,245.04 Z" fill="#8f1d25"/>
<rect x="235.54" y="231.40" width="2.5" height="12.83" fill="#f6f1ee" stroke="#9a8f8c" stroke-width="0.3"/>
<rect x="240.35" y="230.60" width="1.3" height="14.04" fill="#b0323a"/>
<rect x="233.70" y="221.00" width="8.60" height="7.30" rx="1.3" fill="#f0711f"/>
<rect x="233.90" y="226.50" width="8.20" height="1.8" rx="0.6" fill="#dc5c16"/>
<path d="M285.04,228.00 H292.35 V245.04 A3.65,3.65 0 0 1 285.04,245.04 Z" fill="#8f1d25"/>
<rect x="285.04" y="228.00" width="7.31" height="6" fill="#efb233"/>
<rect x="288.70" y="232.20" width="3.65" height="1.8" fill="#c9501e"/>
<rect x="286.14" y="230.40" width="2.4" height="13.25" fill="#f6f1ee" stroke="#9a8f8c" stroke-width="0.3"/>
<rect x="284.40" y="221.00" width="8.60" height="7.30" rx="1.3" fill="#f0711f"/>
<rect x="284.60" y="226.50" width="8.20" height="1.8" rx="0.6" fill="#dc5c16"/>
<text class="s" x="245.60" y="230.37" font-size="8.2" fill="#222" textLength="35.90" lengthAdjust="spacingAndGlyphs"  stroke="#222" stroke-width="0.16">면역항암제</text>
<path d="M248,236.1 H272.5" stroke="#111" stroke-width="2.1" fill="none" />
<polygon points="278.40,236.10 271.10,232.20 271.10,240.00" fill="#111"/>
<g transform="translate(261.20,240.20) scale(1.129)"><path d="M-1,6.4 L-6.9,0.9 M1,6.4 L6.9,0.9" stroke="#c4dfc0" stroke-width="3.5" fill="none"/><rect x="-2.7" y="3.6" width="5.4" height="10.4" fill="#c4dfc0"/><path d="M0,5.2 V14 M-1.6,4.6 L-6.6,-0.2 M1.6,4.6 L6.6,-0.2" stroke="#fff" stroke-width="0.45" opacity="0.55" fill="none"/></g>
<text class="s" x="225.30" y="258.80" font-size="8" fill="#222" textLength="23.60" lengthAdjust="spacingAndGlyphs"  stroke="#222" stroke-width="0.16">치료 전</text>
<text class="s" x="275.60" y="258.80" font-size="8" fill="#222" textLength="23.30" lengthAdjust="spacingAndGlyphs"  stroke="#222" stroke-width="0.16">치료 후</text>
<path d="M263,265.5 V442" stroke="#2b2b2b" stroke-width="1" fill="none" />
<polygon points="263.00,447.00 260.70,442.20 265.30,442.20" fill="#1a1a1a"/>
<rect x="220.00" y="447.60" width="87.50" height="30.70" rx="8" ry="8" stroke="#2b2b2b" stroke-width="1.3" fill="#fff" />
<text class="s" x="241.10" y="459.94" font-size="8.4" fill="#222" textLength="41.60" lengthAdjust="spacingAndGlyphs"  stroke="#222" stroke-width="0.16">부작용 유발</text>
<text class="s" x="241.10" y="471.24" font-size="8.4" fill="#222" textLength="41.60" lengthAdjust="spacingAndGlyphs"  stroke="#222" stroke-width="0.16">위험 요인들</text>
<path d="M307.5,462.5 H309 Q315.6,462.5 315.6,455.5 V297 Q315.6,289.6 321,289" stroke="#2b2b2b" stroke-width="1" fill="none" />
<polygon points="324.50,288.90 319.70,286.60 319.70,291.20" fill="#1a1a1a"/>
<defs>
<radialGradient id="g0"><stop offset="0" stop-color="#ffc2cf"/><stop offset="0.55" stop-color="#f0466f"/><stop offset="1" stop-color="#e02a57"/></radialGradient>
<radialGradient id="g1"><stop offset="0" stop-color="#b9e6fa"/><stop offset="0.55" stop-color="#2aa4df"/><stop offset="1" stop-color="#1590cf"/></radialGradient>
<radialGradient id="i0"><stop offset="0" stop-color="#e4f8e0"/><stop offset="1" stop-color="#8fdc86"/></radialGradient>
<radialGradient id="i1"><stop offset="0" stop-color="#f1eafa"/><stop offset="1" stop-color="#c3aee6"/></radialGradient>
<radialGradient id="i2"><stop offset="0" stop-color="#fdebd6"/><stop offset="1" stop-color="#f7b670"/></radialGradient>
<radialGradient id="i3"><stop offset="0" stop-color="#fdfbdc"/><stop offset="1" stop-color="#f6ee86"/></radialGradient>
<radialGradient id="hn"><stop offset="0" stop-color="#f6f6f6"/><stop offset="1" stop-color="#dadada"/></radialGradient>
<filter id="sh" x="-10%" y="-20%" width="125%" height="160%"><feDropShadow dx="0.5" dy="0.6" stdDeviation="0.35" flood-color="#000" flood-opacity="0.45"/></filter>
</defs>
<rect x="410.75" y="187.00" width="148.00" height="112.50" rx="17" ry="17" stroke="#222" stroke-width="0.9" fill="#fff" />
<rect x="542.00" y="230.80" width="44.50" height="8.40" rx="2" ry="2" stroke="#222" stroke-width="0.8" fill="#fff" filter="url(#sh)"/>
<text class="s" x="548.10" y="237.06" font-size="5.9" fill="#1c1c1c" textLength="31.10" lengthAdjust="spacingAndGlyphs" stroke="#1c1c1c" stroke-width="0.1">발생 가능성</text>
<text class="a" x="581.90" y="237.20" font-size="6.6" fill="#1c1c1c" text-anchor="middle" >↑</text>
<circle cx="542.00" cy="235.00" r="4.4" fill="url(#g0)" stroke="#222" stroke-width="1.1"/>
<rect x="542.00" y="246.55" width="44.50" height="8.40" rx="2" ry="2" stroke="#222" stroke-width="0.8" fill="#fff" filter="url(#sh)"/>
<text class="s" x="548.10" y="252.81" font-size="5.9" fill="#1c1c1c" textLength="31.10" lengthAdjust="spacingAndGlyphs" stroke="#1c1c1c" stroke-width="0.1">발생 가능성</text>
<text class="a" x="581.90" y="252.95" font-size="6.6" fill="#1c1c1c" text-anchor="middle" >↓</text>
<circle cx="542.00" cy="250.75" r="4.4" fill="url(#g1)" stroke="#222" stroke-width="1.1"/>
<rect x="423.05" y="180.80" width="45.60" height="12.00" rx="2.2" ry="2.2" stroke="#222" stroke-width="0.8" fill="#fff" filter="url(#sh)"/>
<text class="s" x="428.65" y="189.21" font-size="6.6" fill="#1c1c1c" textLength="34.40" lengthAdjust="spacingAndGlyphs" stroke="#1c1c1c" stroke-width="0.12">호흡계 부작용</text>
<rect x="398.30" y="195.85" width="148.00" height="112.50" rx="17" ry="17" stroke="#222" stroke-width="0.9" fill="#fff" />
<rect x="529.55" y="239.65" width="44.50" height="8.40" rx="2" ry="2" stroke="#222" stroke-width="0.8" fill="#fff" filter="url(#sh)"/>
<circle cx="529.55" cy="243.85" r="4.4" fill="url(#g0)" stroke="#222" stroke-width="1.1"/>
<rect x="529.55" y="255.40" width="44.50" height="8.40" rx="2" ry="2" stroke="#222" stroke-width="0.8" fill="#fff" filter="url(#sh)"/>
<circle cx="529.55" cy="259.60" r="4.4" fill="url(#g1)" stroke="#222" stroke-width="1.1"/>
<rect x="410.60" y="189.65" width="42.00" height="12.00" rx="2.2" ry="2.2" stroke="#222" stroke-width="0.8" fill="#fff" filter="url(#sh)"/>
<rect x="393.70" y="198.60" width="148.00" height="112.50" rx="17" ry="17" stroke="#222" stroke-width="0.9" fill="#fff" />
<rect x="524.95" y="242.40" width="44.50" height="8.40" rx="2" ry="2" stroke="#222" stroke-width="0.8" fill="#fff" filter="url(#sh)"/>
<circle cx="524.95" cy="246.60" r="4.4" fill="url(#g0)" stroke="#222" stroke-width="1.1"/>
<rect x="524.95" y="258.15" width="44.50" height="8.40" rx="2" ry="2" stroke="#222" stroke-width="0.8" fill="#fff" filter="url(#sh)"/>
<circle cx="524.95" cy="262.35" r="4.4" fill="url(#g1)" stroke="#222" stroke-width="1.1"/>
<rect x="406.00" y="192.40" width="42.00" height="12.00" rx="2.2" ry="2.2" stroke="#222" stroke-width="0.8" fill="#fff" filter="url(#sh)"/>
<rect x="389.10" y="201.35" width="148.00" height="112.50" rx="17" ry="17" stroke="#222" stroke-width="0.9" fill="#fff" />
<rect x="520.35" y="245.15" width="44.50" height="8.40" rx="2" ry="2" stroke="#222" stroke-width="0.8" fill="#fff" filter="url(#sh)"/>
<circle cx="520.35" cy="249.35" r="4.4" fill="url(#g0)" stroke="#222" stroke-width="1.1"/>
<rect x="520.35" y="260.90" width="44.50" height="8.40" rx="2" ry="2" stroke="#222" stroke-width="0.8" fill="#fff" filter="url(#sh)"/>
<circle cx="520.35" cy="265.10" r="4.4" fill="url(#g1)" stroke="#222" stroke-width="1.1"/>
<rect x="401.40" y="195.15" width="42.00" height="12.00" rx="2.2" ry="2.2" stroke="#222" stroke-width="0.8" fill="#fff" filter="url(#sh)"/>
<rect x="384.50" y="204.10" width="148.00" height="112.50" rx="17" ry="17" stroke="#222" stroke-width="0.9" fill="#fff" />
<rect x="515.75" y="247.90" width="44.50" height="8.40" rx="2" ry="2" stroke="#222" stroke-width="0.8" fill="#fff" filter="url(#sh)"/>
<circle cx="515.75" cy="252.10" r="4.4" fill="url(#g0)" stroke="#222" stroke-width="1.1"/>
<rect x="515.75" y="263.65" width="44.50" height="8.40" rx="2" ry="2" stroke="#222" stroke-width="0.8" fill="#fff" filter="url(#sh)"/>
<circle cx="515.75" cy="267.85" r="4.4" fill="url(#g1)" stroke="#222" stroke-width="1.1"/>
<rect x="396.80" y="197.90" width="42.00" height="12.00" rx="2.2" ry="2.2" stroke="#222" stroke-width="0.8" fill="#fff" filter="url(#sh)"/>
<rect x="379.90" y="206.85" width="148.00" height="112.50" rx="17" ry="17" stroke="#222" stroke-width="0.9" fill="#fff" />
<rect x="511.15" y="250.65" width="44.50" height="8.40" rx="2" ry="2" stroke="#222" stroke-width="0.8" fill="#fff" filter="url(#sh)"/>
<circle cx="511.15" cy="254.85" r="4.4" fill="url(#g0)" stroke="#222" stroke-width="1.1"/>
<rect x="511.15" y="266.40" width="44.50" height="8.40" rx="2" ry="2" stroke="#222" stroke-width="0.8" fill="#fff" filter="url(#sh)"/>
<circle cx="511.15" cy="270.60" r="4.4" fill="url(#g1)" stroke="#222" stroke-width="1.1"/>
<rect x="392.20" y="200.65" width="42.00" height="12.00" rx="2.2" ry="2.2" stroke="#222" stroke-width="0.8" fill="#fff" filter="url(#sh)"/>
<rect x="375.30" y="209.60" width="148.00" height="112.50" rx="17" ry="17" stroke="#222" stroke-width="0.9" fill="#fff" />
<rect x="506.55" y="253.40" width="44.50" height="8.40" rx="2" ry="2" stroke="#222" stroke-width="0.8" fill="#fff" filter="url(#sh)"/>
<circle cx="506.55" cy="257.60" r="4.4" fill="url(#g0)" stroke="#222" stroke-width="1.1"/>
<rect x="506.55" y="269.15" width="44.50" height="8.40" rx="2" ry="2" stroke="#222" stroke-width="0.8" fill="#fff" filter="url(#sh)"/>
<circle cx="506.55" cy="273.35" r="4.4" fill="url(#g1)" stroke="#222" stroke-width="1.1"/>
<rect x="387.60" y="203.40" width="42.00" height="12.00" rx="2.2" ry="2.2" stroke="#222" stroke-width="0.8" fill="#fff" filter="url(#sh)"/>
<rect x="370.70" y="212.35" width="148.00" height="112.50" rx="17" ry="17" stroke="#222" stroke-width="0.9" fill="#fff" />
<rect x="501.95" y="256.15" width="44.50" height="8.40" rx="2" ry="2" stroke="#222" stroke-width="0.8" fill="#fff" filter="url(#sh)"/>
<circle cx="501.95" cy="260.35" r="4.4" fill="url(#g0)" stroke="#222" stroke-width="1.1"/>
<rect x="501.95" y="271.90" width="44.50" height="8.40" rx="2" ry="2" stroke="#222" stroke-width="0.8" fill="#fff" filter="url(#sh)"/>
<circle cx="501.95" cy="276.10" r="4.4" fill="url(#g1)" stroke="#222" stroke-width="1.1"/>
<rect x="383.00" y="206.15" width="42.00" height="12.00" rx="2.2" ry="2.2" stroke="#222" stroke-width="0.8" fill="#fff" filter="url(#sh)"/>
<rect x="366.10" y="215.10" width="148.00" height="112.50" rx="17" ry="17" stroke="#222" stroke-width="0.9" fill="#fff" />
<rect x="497.35" y="258.90" width="44.50" height="8.40" rx="2" ry="2" stroke="#222" stroke-width="0.8" fill="#fff" filter="url(#sh)"/>
<circle cx="497.35" cy="263.10" r="4.4" fill="url(#g0)" stroke="#222" stroke-width="1.1"/>
<rect x="497.35" y="274.65" width="44.50" height="8.40" rx="2" ry="2" stroke="#222" stroke-width="0.8" fill="#fff" filter="url(#sh)"/>
<circle cx="497.35" cy="278.85" r="4.4" fill="url(#g1)" stroke="#222" stroke-width="1.1"/>
<rect x="378.40" y="208.90" width="42.00" height="12.00" rx="2.2" ry="2.2" stroke="#222" stroke-width="0.8" fill="#fff" filter="url(#sh)"/>
<rect x="361.50" y="217.85" width="148.00" height="112.50" rx="17" ry="17" stroke="#222" stroke-width="0.9" fill="#fff" />
<rect x="492.75" y="261.65" width="44.50" height="8.40" rx="2" ry="2" stroke="#222" stroke-width="0.8" fill="#fff" filter="url(#sh)"/>
<circle cx="492.75" cy="265.85" r="4.4" fill="url(#g0)" stroke="#222" stroke-width="1.1"/>
<rect x="492.75" y="277.40" width="44.50" height="8.40" rx="2" ry="2" stroke="#222" stroke-width="0.8" fill="#fff" filter="url(#sh)"/>
<circle cx="492.75" cy="281.60" r="4.4" fill="url(#g1)" stroke="#222" stroke-width="1.1"/>
<rect x="373.80" y="211.65" width="42.00" height="12.00" rx="2.2" ry="2.2" stroke="#222" stroke-width="0.8" fill="#fff" filter="url(#sh)"/>
<rect x="356.90" y="220.60" width="148.00" height="112.50" rx="17" ry="17" stroke="#222" stroke-width="0.9" fill="#fff" />
<rect x="488.15" y="264.40" width="44.50" height="8.40" rx="2" ry="2" stroke="#222" stroke-width="0.8" fill="#fff" filter="url(#sh)"/>
<text class="s" x="494.25" y="270.67" font-size="5.9" fill="#1c1c1c" textLength="31.10" lengthAdjust="spacingAndGlyphs" stroke="#1c1c1c" stroke-width="0.1">발생 가능성</text>
<text class="a" x="528.05" y="270.80" font-size="6.6" fill="#1c1c1c" text-anchor="middle" >↑</text>
<circle cx="488.15" cy="268.60" r="4.4" fill="url(#g0)" stroke="#222" stroke-width="1.1"/>
<rect x="488.15" y="280.15" width="44.50" height="8.40" rx="2" ry="2" stroke="#222" stroke-width="0.8" fill="#fff" filter="url(#sh)"/>
<text class="s" x="494.25" y="286.42" font-size="5.9" fill="#1c1c1c" textLength="31.10" lengthAdjust="spacingAndGlyphs" stroke="#1c1c1c" stroke-width="0.1">발생 가능성</text>
<text class="a" x="528.05" y="286.55" font-size="6.6" fill="#1c1c1c" text-anchor="middle" >↓</text>
<circle cx="488.15" cy="284.35" r="4.4" fill="url(#g1)" stroke="#222" stroke-width="1.1"/>
<rect x="369.20" y="214.40" width="42.00" height="12.00" rx="2.2" ry="2.2" stroke="#222" stroke-width="0.8" fill="#fff" filter="url(#sh)"/>
<text class="s" x="376.70" y="222.81" font-size="6.6" fill="#1c1c1c" textLength="27.00" lengthAdjust="spacingAndGlyphs" stroke="#1c1c1c" stroke-width="0.12">피부 부작용</text>
<rect x="341.25" y="231.25" width="148.00" height="112.50" rx="17" ry="17" stroke="#222" stroke-width="0.9" fill="#fff" />
<path d="M362.5,263.00L390,246.75M362.5,263.00L390,262.80M362.5,263.00L390,278.85M362.5,263.00L390,294.90M362.5,263.00L390,310.95M362.5,263.00L390,327.00M362.5,279.00L390,246.75M362.5,279.00L390,262.80M362.5,279.00L390,278.85M362.5,279.00L390,294.90M362.5,279.00L390,310.95M362.5,279.00L390,327.00M362.5,295.00L390,246.75M362.5,295.00L390,262.80M362.5,295.00L390,278.85M362.5,295.00L390,294.90M362.5,295.00L390,310.95M362.5,295.00L390,327.00M362.5,311.00L390,246.75M362.5,311.00L390,262.80M362.5,311.00L390,278.85M362.5,311.00L390,294.90M362.5,311.00L390,310.95M362.5,311.00L390,327.00M390,246.75L417.5,246.75M390,246.75L417.5,262.80M390,246.75L417.5,278.85M390,246.75L417.5,294.90M390,246.75L417.5,310.95M390,246.75L417.5,327.00M390,262.80L417.5,246.75M390,262.80L417.5,262.80M390,262.80L417.5,278.85M390,262.80L417.5,294.90M390,262.80L417.5,310.95M390,262.80L417.5,327.00M390,278.85L417.5,246.75M390,278.85L417.5,262.80M390,278.85L417.5,278.85M390,278.85L417.5,294.90M390,278.85L417.5,310.95M390,278.85L417.5,327.00M390,294.90L417.5,246.75M390,294.90L417.5,262.80M390,294.90L417.5,278.85M390,294.90L417.5,294.90M390,294.90L417.5,310.95M390,294.90L417.5,327.00M390,310.95L417.5,246.75M390,310.95L417.5,262.80M390,310.95L417.5,278.85M390,310.95L417.5,294.90M390,310.95L417.5,310.95M390,310.95L417.5,327.00M390,327.00L417.5,246.75M390,327.00L417.5,262.80M390,327.00L417.5,278.85M390,327.00L417.5,294.90M390,327.00L417.5,310.95M390,327.00L417.5,327.00M417.5,246.75L444.5,246.75M417.5,246.75L444.5,262.80M417.5,246.75L444.5,278.85M417.5,246.75L444.5,294.90M417.5,246.75L444.5,310.95M417.5,246.75L444.5,327.00M417.5,262.80L444.5,246.75M417.5,262.80L444.5,262.80M417.5,262.80L444.5,278.85M417.5,262.80L444.5,294.90M417.5,262.80L444.5,310.95M417.5,262.80L444.5,327.00M417.5,278.85L444.5,246.75M417.5,278.85L444.5,262.80M417.5,278.85L444.5,278.85M417.5,278.85L444.5,294.90M417.5,278.85L444.5,310.95M417.5,278.85L444.5,327.00M417.5,294.90L444.5,246.75M417.5,294.90L444.5,262.80M417.5,294.90L444.5,278.85M417.5,294.90L444.5,294.90M417.5,294.90L444.5,310.95M417.5,294.90L444.5,327.00M417.5,310.95L444.5,246.75M417.5,310.95L444.5,262.80M417.5,310.95L444.5,278.85M417.5,310.95L444.5,294.90M417.5,310.95L444.5,310.95M417.5,310.95L444.5,327.00M417.5,327.00L444.5,246.75M417.5,327.00L444.5,262.80M417.5,327.00L444.5,278.85M417.5,327.00L444.5,294.90M417.5,327.00L444.5,310.95M417.5,327.00L444.5,327.00M444.5,246.75L472.5,279.25M444.5,246.75L472.5,295.00M444.5,262.80L472.5,279.25M444.5,262.80L472.5,295.00M444.5,278.85L472.5,279.25M444.5,278.85L472.5,295.00M444.5,294.90L472.5,279.25M444.5,294.90L472.5,295.00M444.5,310.95L472.5,279.25M444.5,310.95L472.5,295.00M444.5,327.00L472.5,279.25M444.5,327.00L472.5,295.00" stroke="#808080" stroke-width="0.48" fill="none" />
<circle cx="390" cy="246.75" r="4.4" fill="url(#hn)" stroke="#303030" stroke-width="1.15"/>
<circle cx="390" cy="262.80" r="4.4" fill="url(#hn)" stroke="#303030" stroke-width="1.15"/>
<circle cx="390" cy="278.85" r="4.4" fill="url(#hn)" stroke="#303030" stroke-width="1.15"/>
<circle cx="390" cy="294.90" r="4.4" fill="url(#hn)" stroke="#303030" stroke-width="1.15"/>
<circle cx="390" cy="310.95" r="4.4" fill="url(#hn)" stroke="#303030" stroke-width="1.15"/>
<circle cx="390" cy="327.00" r="4.4" fill="url(#hn)" stroke="#303030" stroke-width="1.15"/>
<circle cx="417.5" cy="246.75" r="4.4" fill="url(#hn)" stroke="#303030" stroke-width="1.15"/>
<circle cx="417.5" cy="262.80" r="4.4" fill="url(#hn)" stroke="#303030" stroke-width="1.15"/>
<circle cx="417.5" cy="278.85" r="4.4" fill="url(#hn)" stroke="#303030" stroke-width="1.15"/>
<circle cx="417.5" cy="294.90" r="4.4" fill="url(#hn)" stroke="#303030" stroke-width="1.15"/>
<circle cx="417.5" cy="310.95" r="4.4" fill="url(#hn)" stroke="#303030" stroke-width="1.15"/>
<circle cx="417.5" cy="327.00" r="4.4" fill="url(#hn)" stroke="#303030" stroke-width="1.15"/>
<circle cx="444.5" cy="246.75" r="4.4" fill="url(#hn)" stroke="#303030" stroke-width="1.15"/>
<circle cx="444.5" cy="262.80" r="4.4" fill="url(#hn)" stroke="#303030" stroke-width="1.15"/>
<circle cx="444.5" cy="278.85" r="4.4" fill="url(#hn)" stroke="#303030" stroke-width="1.15"/>
<circle cx="444.5" cy="294.90" r="4.4" fill="url(#hn)" stroke="#303030" stroke-width="1.15"/>
<circle cx="444.5" cy="310.95" r="4.4" fill="url(#hn)" stroke="#303030" stroke-width="1.15"/>
<circle cx="444.5" cy="327.00" r="4.4" fill="url(#hn)" stroke="#303030" stroke-width="1.15"/>
<rect x="472.50" y="275.05" width="44.50" height="8.40" rx="2" ry="2" stroke="#222" stroke-width="0.8" fill="#fff" filter="url(#sh)"/>
<text class="s" x="478.60" y="281.31" font-size="5.9" fill="#1c1c1c" textLength="31.10" lengthAdjust="spacingAndGlyphs" stroke="#1c1c1c" stroke-width="0.1">발생 가능성</text>
<text class="a" x="512.40" y="281.45" font-size="6.6" fill="#1c1c1c" text-anchor="middle" >↑</text>
<circle cx="472.50" cy="279.25" r="4.4" fill="url(#g0)" stroke="#222" stroke-width="1.1"/>
<rect x="472.50" y="290.80" width="44.50" height="8.40" rx="2" ry="2" stroke="#222" stroke-width="0.8" fill="#fff" filter="url(#sh)"/>
<text class="s" x="478.60" y="297.06" font-size="5.9" fill="#1c1c1c" textLength="31.10" lengthAdjust="spacingAndGlyphs" stroke="#1c1c1c" stroke-width="0.1">발생 가능성</text>
<text class="a" x="512.40" y="297.20" font-size="6.6" fill="#1c1c1c" text-anchor="middle" >↓</text>
<circle cx="472.50" cy="295.00" r="4.4" fill="url(#g1)" stroke="#222" stroke-width="1.1"/>
<rect x="328.30" y="258.70" width="34.00" height="8.60" rx="2" ry="2" stroke="#222" stroke-width="0.8" fill="#fff" filter="url(#sh)"/>
<text class="a" x="345.50" y="265.05" font-size="5.8" fill="#111" text-anchor="middle" >LAB</text>
<circle cx="362.5" cy="263" r="4.4" fill="url(#i0)" stroke="#303030" stroke-width="1.1"/>
<rect x="328.30" y="274.70" width="34.00" height="8.60" rx="2" ry="2" stroke="#222" stroke-width="0.8" fill="#fff" filter="url(#sh)"/>
<text class="a" x="345.50" y="281.05" font-size="5.8" fill="#111" text-anchor="middle" >HLA</text>
<circle cx="362.5" cy="279" r="4.4" fill="url(#i1)" stroke="#303030" stroke-width="1.1"/>
<rect x="328.30" y="290.70" width="34.00" height="8.60" rx="2" ry="2" stroke="#222" stroke-width="0.8" fill="#fff" filter="url(#sh)"/>
<text class="a" x="345.50" y="297.05" font-size="5.8" fill="#111" text-anchor="middle" >SNV</text>
<circle cx="362.5" cy="295" r="4.4" fill="url(#i2)" stroke="#303030" stroke-width="1.1"/>
<rect x="328.30" y="306.70" width="34.00" height="8.60" rx="2" ry="2" stroke="#222" stroke-width="0.8" fill="#fff" filter="url(#sh)"/>
<text class="a" x="345.50" y="313.05" font-size="5.8" fill="#111" text-anchor="middle" >CNV</text>
<circle cx="362.5" cy="311" r="4.4" fill="url(#i3)" stroke="#303030" stroke-width="1.1"/>
<rect x="353.60" y="225.00" width="42.00" height="12.00" rx="2.2" ry="2.2" stroke="#222" stroke-width="0.8" fill="#fff" filter="url(#sh)"/>
<text class="s" x="359.80" y="233.41" font-size="6.6" fill="#1c1c1c" textLength="28.40" lengthAdjust="spacingAndGlyphs" stroke="#1c1c1c" stroke-width="0.12">모든 부작용</text>
<text class="s" x="360.10" y="356.63" font-size="5.8" fill="#444" textLength="25.60" lengthAdjust="spacingAndGlyphs" >부작용 종류</text>
<rect x="389.40" y="347.10" width="5.60" height="5.80" rx="1" ry="1" stroke="#2b8fd9" stroke-width="0.8" fill="#fff" />
<path d="M392.2,348.3 V351.7" stroke="#2b8fd9" stroke-width="0.8" fill="none" />
<text class="s" x="399.40" y="352.20" font-size="6.3" fill="#333" text-anchor="start" >독감 유사</text>
<rect x="389.40" y="356.50" width="5.60" height="5.80" rx="1" ry="1" stroke="#e0605a" stroke-width="0.8" fill="#fff" />
<path d="M392.2,357.7 V361.09999999999997" stroke="#e0605a" stroke-width="0.8" fill="none" />
<text class="s" x="399.40" y="361.60" font-size="6.3" fill="#333" text-anchor="start" >신경계</text>
<rect x="429.40" y="347.10" width="5.60" height="5.80" rx="1" ry="1" stroke="#a9a9a9" stroke-width="0.8" fill="#fff" />
<path d="M432.2,348.3 V351.7" stroke="#a9a9a9" stroke-width="0.8" fill="none" />
<text class="s" x="438.40" y="352.20" font-size="6.3" fill="#333" text-anchor="start" >근골격계</text>
<rect x="429.40" y="356.50" width="5.60" height="5.80" rx="1" ry="1" stroke="#f2c21a" stroke-width="0.8" fill="#fff" />
<path d="M432.2,357.7 V361.09999999999997" stroke="#f2c21a" stroke-width="0.8" fill="none" />
<text class="s" x="438.40" y="361.60" font-size="6.3" fill="#333" text-anchor="start" >소화기계</text>
<rect x="482.30" y="347.10" width="5.60" height="5.80" rx="1" ry="1" stroke="#2f6aa0" stroke-width="0.8" fill="#fff" />
<path d="M485.1,348.3 V351.7" stroke="#2f6aa0" stroke-width="0.8" fill="none" />
<text class="s" x="491.70" y="352.20" font-size="6.3" fill="#333" text-anchor="start" >피부</text>
<rect x="482.30" y="356.50" width="5.60" height="5.80" rx="1" ry="1" stroke="#b4962c" stroke-width="0.8" fill="#fff" />
<path d="M485.1,357.7 V361.09999999999997" stroke="#b4962c" stroke-width="0.8" fill="none" />
<text class="s" x="491.70" y="361.60" font-size="6.3" fill="#333" text-anchor="start" >갑상선</text>
<rect x="513.20" y="347.10" width="5.60" height="5.80" rx="1" ry="1" stroke="#9fc5ee" stroke-width="0.8" fill="#fff" />
<path d="M516.0,348.3 V351.7" stroke="#9fc5ee" stroke-width="0.8" fill="none" />
<text class="s" x="522.30" y="352.20" font-size="6.3" fill="#333" text-anchor="start" >호흡계</text>
<path d="M360,368.8 V468.2 H564.5" stroke="#222" stroke-width="1" fill="none" />
<path d="M358.2,372.5 H360" stroke="#333" stroke-width="0.7" fill="none" />
<text class="a" x="357.00" y="374.70" font-size="6.1" fill="#2a2a2a" text-anchor="end" >0.03</text>
<path d="M358.2,402.9 H360" stroke="#333" stroke-width="0.7" fill="none" />
<text class="a" x="357.00" y="405.10" font-size="6.1" fill="#2a2a2a" text-anchor="end" >0.02</text>
<path d="M358.2,433.1 H360" stroke="#333" stroke-width="0.7" fill="none" />
<text class="a" x="357.00" y="435.30" font-size="6.1" fill="#2a2a2a" text-anchor="end" >0.01</text>
<path d="M358.2,463.3 H360" stroke="#333" stroke-width="0.7" fill="none" />
<text class="a" x="357.00" y="465.50" font-size="6.1" fill="#2a2a2a" text-anchor="end" >0.00</text>
<path d="M368.75,468.2 V470" stroke="#333" stroke-width="0.7" fill="none" />
<text class="a" x="368.75" y="476.20" font-size="6.1" fill="#2a2a2a" text-anchor="middle" >0</text>
<path d="M430.75,468.2 V470" stroke="#333" stroke-width="0.7" fill="none" />
<text class="a" x="430.75" y="476.20" font-size="6.1" fill="#2a2a2a" text-anchor="middle" >50</text>
<path d="M492.75,468.2 V470" stroke="#333" stroke-width="0.7" fill="none" />
<text class="a" x="492.75" y="476.20" font-size="6.1" fill="#2a2a2a" text-anchor="middle" >100</text>
<path d="M554.75,468.2 V470" stroke="#333" stroke-width="0.7" fill="none" />
<text class="a" x="554.75" y="476.20" font-size="6.1" fill="#2a2a2a" text-anchor="middle" >150</text>
<text class="s" x="-30.20" y="3.15" font-size="9" fill="#333" textLength="60.40" lengthAdjust="spacingAndGlyphs" transform="translate(337.2 413.8) rotate(-90)" stroke="#333" stroke-width="0.16">부작용 발생 빈도</text>
<text class="s" x="410.80" y="486.74" font-size="8.4" fill="#333" textLength="116.40" lengthAdjust="spacingAndGlyphs"  stroke="#333" stroke-width="0.16">면역항암제 투여 후 경과 시간 (일)</text>
<path d="M368.75,455.75 C372.29,455.62 383.12,455.26 390.00,455.00 C396.88,454.74 403.33,454.45 410.00,454.20 C416.67,453.95 423.33,453.70 430.00,453.50 C436.67,453.30 443.33,453.08 450.00,453.00 C456.67,452.92 461.67,452.75 470.00,453.00 C478.33,453.25 490.00,453.92 500.00,454.50 C510.00,455.08 519.00,455.88 530.00,456.50 C541.00,457.12 560.00,457.96 566.00,458.25" stroke="#9fc5ee" stroke-width="0.9" fill="none" />
<path d="M368.75,454.50 C371.46,454.08 379.79,452.75 385.00,452.00 C390.21,451.25 395.00,450.58 400.00,450.00 C405.00,449.42 410.00,448.92 415.00,448.50 C420.00,448.08 425.00,447.75 430.00,447.50 C435.00,447.25 440.00,447.00 445.00,447.00 C450.00,447.00 454.17,447.17 460.00,447.50 C465.83,447.83 471.17,448.25 480.00,449.00 C488.83,449.75 503.00,451.17 513.00,452.00 C523.00,452.83 531.17,453.29 540.00,454.00 C548.83,454.71 561.67,455.88 566.00,456.25" stroke="#b4962c" stroke-width="0.9" fill="none" />
<path d="M368.75,440.50 C369.96,440.00 373.46,438.25 376.00,437.50 C378.54,436.75 381.33,436.17 384.00,436.00 C386.67,435.83 389.33,436.17 392.00,436.50 C394.67,436.83 397.50,437.33 400.00,438.00 C402.50,438.67 404.00,439.42 407.00,440.50 C410.00,441.58 414.17,443.12 418.00,444.50 C421.83,445.88 425.50,447.50 430.00,448.75 C434.50,450.00 440.83,451.17 445.00,452.00 C449.17,452.83 449.17,453.17 455.00,453.75 C460.83,454.33 469.17,454.62 480.00,455.50 C490.83,456.38 505.67,458.00 520.00,459.00 C534.33,460.00 558.33,461.08 566.00,461.50" stroke="#f2c21a" stroke-width="0.9" fill="none" />
<path d="M368.75,440.00 C370.29,439.58 374.79,438.00 378.00,437.50 C381.21,437.00 384.67,436.92 388.00,437.00 C391.33,437.08 394.83,437.50 398.00,438.00 C401.17,438.50 403.67,439.08 407.00,440.00 C410.33,440.92 414.17,442.25 418.00,443.50 C421.83,444.75 425.50,446.17 430.00,447.50 C434.50,448.83 440.00,450.50 445.00,451.50 C450.00,452.50 454.17,453.00 460.00,453.50 C465.83,454.00 470.00,453.83 480.00,454.50 C490.00,455.17 505.67,456.58 520.00,457.50 C534.33,458.42 558.33,459.58 566.00,460.00" stroke="#2f6aa0" stroke-width="0.9" fill="none" />
<path d="M368.75,428.75 C369.46,428.51 371.46,427.59 373.00,427.30 C374.54,427.01 376.00,426.80 378.00,427.00 C380.00,427.20 382.42,427.58 385.00,428.50 C387.58,429.42 391.00,431.17 393.50,432.50 C396.00,433.83 397.75,435.08 400.00,436.50 C402.25,437.92 404.00,439.00 407.00,441.00 C410.00,443.00 414.17,446.38 418.00,448.50 C421.83,450.62 425.50,452.58 430.00,453.75 C434.50,454.92 436.67,455.29 445.00,455.50 C453.33,455.71 467.50,454.58 480.00,455.00 C492.50,455.42 505.67,456.92 520.00,458.00 C534.33,459.08 558.33,460.92 566.00,461.50" stroke="#e0605a" stroke-width="0.9" fill="none" />
<path d="M368.75,413.75 C369.79,412.92 372.96,409.29 375.00,408.75 C377.04,408.21 378.83,409.21 381.00,410.50 C383.17,411.79 385.92,414.50 388.00,416.50 C390.08,418.50 391.50,420.17 393.50,422.50 C395.50,424.83 397.75,427.79 400.00,430.50 C402.25,433.21 404.00,435.92 407.00,438.75 C410.00,441.58 414.17,445.00 418.00,447.50 C421.83,450.00 424.67,452.25 430.00,453.75 C435.33,455.25 441.67,455.79 450.00,456.50 C458.33,457.21 468.33,457.50 480.00,458.00 C491.67,458.50 505.67,459.00 520.00,459.50 C534.33,460.00 558.33,460.75 566.00,461.00" stroke="#a9a9a9" stroke-width="0.9" fill="none" />
<path d="M368.75,397.50 C369.58,396.54 372.21,392.17 373.75,391.75 C375.29,391.33 376.36,392.17 378.00,395.00 C379.64,397.83 381.85,404.92 383.60,408.75 C385.35,412.58 386.85,415.12 388.50,418.00 C390.15,420.88 391.58,423.33 393.50,426.00 C395.42,428.67 397.75,431.67 400.00,434.00 C402.25,436.33 404.00,437.54 407.00,440.00 C410.00,442.46 414.04,446.46 418.00,448.75 C421.96,451.04 425.42,452.62 430.75,453.75 C436.08,454.88 441.79,455.04 450.00,455.50 C458.21,455.96 469.50,455.83 480.00,456.50 C490.50,457.17 503.00,458.58 513.00,459.50 C523.00,460.42 531.17,461.42 540.00,462.00 C548.83,462.58 561.67,462.83 566.00,463.00" stroke="#2b8fd9" stroke-width="0.9" fill="none" />
<path d="M383.63,384 V468" stroke="#2b8fd9" stroke-width="1" fill="none" stroke-dasharray="5 3.4"/>
<path d="M386.11,384 V468" stroke="#e0605a" stroke-width="1" fill="none" stroke-dasharray="5 3.4"/>
<path d="M393.55,384 V468" stroke="#a9a9a9" stroke-width="1" fill="none" stroke-dasharray="5 3.4"/>
<path d="M397.89,384 V468" stroke="#f2c21a" stroke-width="1" fill="none" stroke-dasharray="5 3.4"/>
<path d="M407.19,384 V468" stroke="#2f6aa0" stroke-width="1" fill="none" stroke-dasharray="5 3.4"/>
<path d="M481.59,384 V468" stroke="#b4962c" stroke-width="1" fill="none" stroke-dasharray="5 3.4"/>
<path d="M513.83,384 V468" stroke="#9fc5ee" stroke-width="1" fill="none" stroke-dasharray="5 3.4"/>
<rect x="373.80" y="368.80" width="9.20" height="6.50" rx="1.3" ry="1.3" stroke="#2b8fd9" stroke-width="0.9" fill="#fff" />
<text class="a" x="378.40" y="374.10" font-size="5.8" fill="#111" text-anchor="middle" >12</text>
<rect x="377.50" y="377.00" width="8.00" height="6.50" rx="1.3" ry="1.3" stroke="#e0605a" stroke-width="0.9" fill="#fff" />
<text class="a" x="381.50" y="382.30" font-size="5.8" fill="#111" text-anchor="middle" >14</text>
<rect x="386.30" y="371.20" width="10.00" height="6.50" rx="1.3" ry="1.3" stroke="#a9a9a9" stroke-width="0.9" fill="#e6e6e6" />
<text class="a" x="391.30" y="376.50" font-size="5.8" fill="#111" text-anchor="middle" >20</text>
<rect x="396.30" y="376.80" width="13.70" height="6.50" rx="1.3" ry="1.3" stroke="#f2c21a" stroke-width="0.9" fill="#fff" />
<text class="a" x="403.15" y="382.10" font-size="5.8" fill="#111" text-anchor="middle" >23.5</text>
<rect x="408.00" y="368.80" width="9.50" height="6.50" rx="1.3" ry="1.3" stroke="#2f6aa0" stroke-width="0.9" fill="#fff" />
<text class="a" x="412.75" y="374.10" font-size="5.8" fill="#111" text-anchor="middle" >31</text>
<rect x="477.00" y="374.60" width="9.60" height="6.50" rx="1.3" ry="1.3" stroke="#b4962c" stroke-width="0.9" fill="#fff" />
<text class="a" x="481.80" y="379.90" font-size="5.8" fill="#111" text-anchor="middle" >91</text>
<rect x="506.30" y="374.60" width="12.40" height="6.50" rx="1.3" ry="1.3" stroke="#9fc5ee" stroke-width="0.9" fill="#fff" />
<text class="a" x="512.50" y="379.90" font-size="5.8" fill="#111" text-anchor="middle" >117</text>
</svg></body></html>
